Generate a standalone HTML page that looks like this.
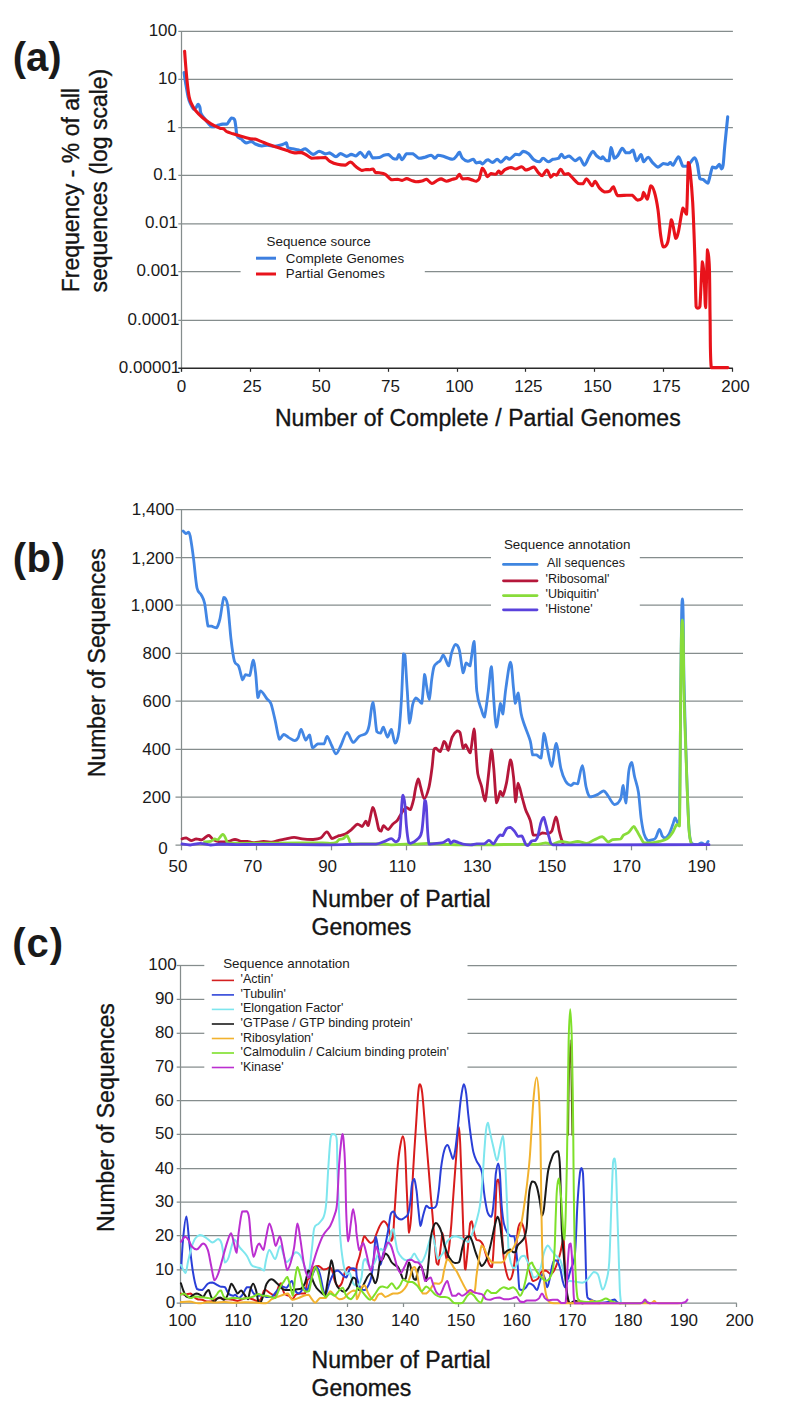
<!DOCTYPE html>
<html><head><meta charset="utf-8"><style>
html,body{margin:0;padding:0;background:#fff;}
body{width:785px;height:1412px;overflow:hidden;}
svg{display:block;font-family:"Liberation Sans", sans-serif;fill:#111;}
svg text{fill:#141414;stroke:#141414;stroke-width:0.35px;}
svg text.sm{stroke:none;fill:#1a1a1a;}
</style></head><body>
<svg width="785" height="1412" viewBox="0 0 785 1412">
<rect width="785" height="1412" fill="#fff"/>
<line x1="178.3" y1="31.46" x2="732.9" y2="31.46" stroke="#858d8d" stroke-width="1.25"/>
<line x1="178.3" y1="79.3" x2="732.9" y2="79.3" stroke="#858d8d" stroke-width="1.25"/>
<line x1="178.3" y1="127.65" x2="732.9" y2="127.65" stroke="#858d8d" stroke-width="1.25"/>
<line x1="178.3" y1="175.25" x2="732.9" y2="175.25" stroke="#858d8d" stroke-width="1.25"/>
<line x1="178.3" y1="223.9" x2="732.9" y2="223.9" stroke="#858d8d" stroke-width="1.25"/>
<line x1="178.3" y1="271.5" x2="240.6" y2="271.5" stroke="#858d8d" stroke-width="1.25"/>
<line x1="424.8" y1="271.5" x2="732.9" y2="271.5" stroke="#858d8d" stroke-width="1.25"/>
<line x1="178.3" y1="320.4" x2="732.9" y2="320.4" stroke="#858d8d" stroke-width="1.25"/>
<line x1="181.5" y1="31.5" x2="181.5" y2="371.5" stroke="#858d8d" stroke-width="1.25"/>
<text class="sm" x="177" y="35.8" font-size="17" text-anchor="end" font-weight="normal" >100</text>
<text class="sm" x="177" y="83.6" font-size="17" text-anchor="end" font-weight="normal" >10</text>
<text class="sm" x="176" y="132.0" font-size="17" text-anchor="end" font-weight="normal" >1</text>
<text class="sm" x="177" y="179.6" font-size="17" text-anchor="end" font-weight="normal" >0.1</text>
<text class="sm" x="178" y="228.2" font-size="17" text-anchor="end" font-weight="normal" >0.01</text>
<text class="sm" x="179" y="275.8" font-size="17" text-anchor="end" font-weight="normal" >0.001</text>
<text class="sm" x="179.5" y="324.7" font-size="17" text-anchor="end" font-weight="normal" >0.0001</text>
<text class="sm" x="180.3" y="372.5" font-size="17" text-anchor="end" font-weight="normal" >0.00001</text>
<line x1="178.3" y1="368.2" x2="732.9" y2="368.2" stroke="#2a2a2a" stroke-width="1.4"/>
<line x1="181.5" y1="368" x2="181.5" y2="371.8" stroke="#2a2a2a" stroke-width="1.2"/>
<text class="sm" x="181.6" y="391.8" font-size="17" text-anchor="middle" font-weight="normal" >0</text>
<line x1="250.5" y1="368" x2="250.5" y2="371.8" stroke="#2a2a2a" stroke-width="1.2"/>
<text class="sm" x="252.3" y="391.8" font-size="17" text-anchor="middle" font-weight="normal" >25</text>
<line x1="319.5" y1="368" x2="319.5" y2="371.8" stroke="#2a2a2a" stroke-width="1.2"/>
<text class="sm" x="321.3" y="391.8" font-size="17" text-anchor="middle" font-weight="normal" >50</text>
<line x1="388.5" y1="368" x2="388.5" y2="371.8" stroke="#2a2a2a" stroke-width="1.2"/>
<text class="sm" x="390.4" y="391.8" font-size="17" text-anchor="middle" font-weight="normal" >75</text>
<line x1="457.5" y1="368" x2="457.5" y2="371.8" stroke="#2a2a2a" stroke-width="1.2"/>
<text class="sm" x="459.4" y="391.8" font-size="17" text-anchor="middle" font-weight="normal" >100</text>
<line x1="525.5" y1="368" x2="525.5" y2="371.8" stroke="#2a2a2a" stroke-width="1.2"/>
<text class="sm" x="528.4" y="391.8" font-size="17" text-anchor="middle" font-weight="normal" >125</text>
<line x1="594.5" y1="368" x2="594.5" y2="371.8" stroke="#2a2a2a" stroke-width="1.2"/>
<text class="sm" x="597.5" y="391.8" font-size="17" text-anchor="middle" font-weight="normal" >150</text>
<line x1="663.5" y1="368" x2="663.5" y2="371.8" stroke="#2a2a2a" stroke-width="1.2"/>
<text class="sm" x="666.5" y="391.8" font-size="17" text-anchor="middle" font-weight="normal" >175</text>
<line x1="732.5" y1="368" x2="732.5" y2="371.8" stroke="#2a2a2a" stroke-width="1.2"/>
<text class="sm" x="735.5" y="391.8" font-size="17" text-anchor="middle" font-weight="normal" >200</text>
<text class="sm" x="266.5" y="246.3" font-size="13.4" text-anchor="start" font-weight="normal" >Sequence source</text>
<line x1="256" y1="258.2" x2="276" y2="258.2" stroke="#3d7fe0" stroke-width="3"/>
<line x1="256" y1="274" x2="276" y2="274" stroke="#e8141c" stroke-width="3"/>
<text class="sm" x="285.8" y="262.5" font-size="13.3" text-anchor="start" font-weight="normal" >Complete Genomes</text>
<text class="sm" x="285.8" y="278.2" font-size="13.3" text-anchor="start" font-weight="normal" >Partial Genomes</text>
<path d="M184.1,72.6 C184.3,74.3 184.9,78.7 185.6,82.8 C186.3,86.9 187.4,93.7 188.2,97.1 C189.0,100.5 189.3,101.2 190.2,103.2 C191.1,105.2 192.8,108.6 193.8,109.3 C194.8,109.3 195.6,108.1 196.3,107.3 C197.0,106.5 197.5,104.2 198.1,104.2 C198.7,104.2 199.4,105.8 199.9,107.3 C200.4,108.8 200.1,111.5 200.9,113.4 C201.7,115.3 203.2,116.8 204.5,118.5 C205.8,120.2 207.3,122.2 208.5,123.6 C209.7,124.9 210.6,126.1 211.6,126.6 C212.6,126.6 213.4,126.6 214.6,126.6 C215.8,126.3 217.3,125.5 218.7,125.1 C220.1,124.7 221.4,124.3 222.8,124.1 C224.2,124.1 225.9,124.1 226.9,124.1 C227.9,123.7 228.1,122.5 228.9,121.5 C229.7,120.5 230.6,118.3 231.5,118.0 C232.4,118.0 233.8,118.1 234.5,119.5 C235.2,120.9 235.4,123.9 235.8,126.6 C236.2,129.3 236.2,133.8 237.1,135.8 C238.0,137.9 239.6,137.7 241.1,138.9 C242.6,140.1 244.5,142.5 246.2,142.9 C247.9,142.9 249.8,141.4 251.3,141.4 C252.8,141.6 253.6,143.2 255.4,144.0 C257.2,144.8 259.9,145.8 261.9,146.0 C263.9,146.0 265.0,145.2 267.2,145.2 C269.4,145.2 272.3,146.3 274.9,146.3 C277.4,146.2 280.6,145.1 282.5,144.5 C284.4,143.9 285.4,142.9 286.3,142.9 C287.2,143.4 286.9,146.5 287.9,147.5 C288.9,148.5 290.9,148.3 292.5,148.7 C294.1,149.1 296.4,149.5 297.8,149.8 C299.2,150.1 299.6,150.6 300.9,150.6 C302.2,150.4 303.4,148.7 305.4,148.7 C307.4,149.3 310.8,154.0 313.1,154.4 C315.4,154.4 317.2,151.4 319.2,151.3 C321.2,151.3 323.5,153.6 325.3,153.9 C327.1,153.9 328.1,152.9 329.9,152.9 C331.7,153.4 334.2,156.6 336.0,156.7 C337.8,156.7 338.8,153.6 340.6,153.6 C342.4,153.6 344.9,156.3 346.7,156.4 C348.5,156.4 349.8,154.5 351.3,154.4 C352.8,154.4 354.4,155.9 355.9,155.9 C357.4,155.6 359.0,152.4 360.5,152.4 C362.0,152.7 363.7,157.5 365.1,157.5 C366.5,157.4 367.6,151.8 368.9,151.8 C370.2,151.9 371.0,157.0 372.7,157.9 C374.4,157.9 377.3,157.9 379.2,157.5 C381.1,157.1 382.3,155.7 383.8,155.2 C385.3,154.7 386.8,154.5 388.3,154.5 C389.8,155.0 391.5,157.6 392.9,158.3 C394.3,159.0 395.8,159.0 396.8,159.0 C397.8,158.4 398.1,154.5 399.0,154.5 C399.9,154.6 400.8,159.8 402.1,159.8 C403.4,159.7 404.9,154.7 406.7,153.7 C408.5,153.7 410.8,153.7 412.8,153.7 C414.8,154.5 416.9,157.7 418.9,158.3 C420.9,158.3 423.0,157.7 425.0,157.2 C427.0,156.7 429.4,155.2 431.1,155.2 C432.8,155.4 433.9,158.3 435.0,158.3 C436.1,158.3 436.6,155.5 438.0,155.2 C439.4,155.2 441.0,155.6 443.4,156.3 C445.8,157.0 450.2,159.3 452.5,159.3 C454.8,159.1 456.0,156.4 457.1,155.2 C458.2,154.0 458.5,152.2 459.4,152.2 C460.3,152.7 461.1,156.8 462.5,158.3 C463.9,159.8 466.0,161.1 467.8,161.3 C469.6,161.3 471.8,159.3 473.2,159.3 C474.6,159.6 475.0,162.4 476.2,162.9 C477.4,162.9 479.1,162.1 480.1,162.1 C481.1,162.3 481.4,163.9 482.4,163.9 C483.4,163.7 485.2,161.3 486.2,160.6 C487.1,159.9 487.0,159.8 488.1,159.8 C489.2,160.1 491.1,162.4 492.6,162.4 C494.1,162.3 495.8,159.4 497.2,159.3 C498.6,159.3 499.5,162.1 501.0,162.1 C502.5,161.8 505.0,157.7 506.4,157.2 C507.8,157.2 508.0,159.3 509.5,159.3 C511.0,158.8 514.0,154.9 515.6,154.2 C517.2,154.2 518.1,154.8 519.4,154.8 C520.7,154.3 521.7,151.6 523.2,151.4 C524.7,151.4 526.8,152.3 528.6,153.7 C530.4,155.1 532.1,158.5 533.9,159.8 C535.7,161.2 537.8,161.8 539.3,161.8 C540.8,161.6 541.6,158.3 543.1,158.3 C544.6,158.3 546.8,161.6 548.4,161.8 C550.0,161.8 551.3,159.9 553.0,159.3 C554.7,158.7 557.0,159.2 558.4,158.3 C559.8,157.5 560.4,154.3 561.4,154.2 C562.4,154.2 563.2,157.5 564.5,157.8 C565.8,157.8 567.3,156.0 569.1,156.0 C570.9,156.5 573.4,160.3 575.2,160.6 C577.0,160.6 578.3,157.8 579.8,157.8 C581.3,158.6 582.9,165.2 584.4,165.2 C585.9,165.1 587.5,159.5 588.9,157.2 C590.3,154.9 591.5,151.7 592.8,151.4 C594.1,151.4 595.2,154.5 596.6,155.7 C598.0,156.9 600.2,158.5 601.2,158.7 C602.2,158.7 602.0,156.7 602.7,156.7 C603.4,156.9 604.4,159.2 605.4,159.9 C606.4,160.6 607.9,160.8 608.9,160.8 C609.9,158.7 610.2,147.9 611.1,147.5 C612.0,147.5 613.2,156.9 614.3,158.2 C615.4,158.2 616.5,157.2 617.8,155.5 C619.1,153.8 620.9,148.8 622.3,148.3 C623.6,148.3 624.7,152.1 625.9,152.8 C627.1,152.8 628.2,152.8 629.4,152.8 C630.6,152.4 631.8,150.1 633.0,150.1 C634.2,151.4 635.3,160.1 636.6,160.8 C637.9,160.8 639.8,154.6 641.0,154.6 C642.2,154.8 642.5,161.2 643.7,161.7 C644.9,161.7 646.7,157.3 648.2,157.3 C649.7,157.5 651.0,161.0 652.6,162.6 C654.2,164.2 656.2,166.9 658.0,167.1 C659.8,167.1 661.7,163.9 663.3,163.5 C664.9,163.5 666.6,164.4 667.8,164.4 C669.0,164.2 669.5,162.6 670.4,162.6 C671.3,162.8 671.8,165.3 673.1,165.3 C674.5,164.3 676.9,156.7 678.5,156.7 C680.1,156.8 681.4,164.6 682.9,166.2 C684.4,166.2 686.0,166.2 687.4,166.2 C688.8,165.4 689.8,163.1 691.0,161.7 C692.2,160.3 693.5,157.8 694.5,157.8 C695.5,158.1 696.3,160.0 697.2,163.5 C698.1,167.0 698.9,176.0 699.9,178.7 C700.9,179.6 702.1,178.9 703.4,179.6 C704.7,180.3 706.4,183.1 707.9,183.1 C709.4,181.0 711.1,169.6 712.4,167.1 C713.7,167.1 714.7,168.0 715.9,168.0 C717.1,167.6 718.6,164.4 719.5,164.4 C720.4,164.6 720.7,168.8 721.3,168.9 C721.9,168.9 722.5,168.9 723.1,165.3 C723.7,161.4 724.0,153.8 724.8,145.7 C725.6,137.6 727.2,121.6 727.7,116.8" fill="none" stroke="#3a80e2" stroke-width="3.1" stroke-linejoin="round" stroke-linecap="round"/>
<path d="M184.6,51.2 C184.8,54.4 185.6,64.8 186.1,70.6 C186.6,76.4 187.1,81.5 187.6,85.9 C188.1,90.3 188.6,94.2 189.2,97.1 C189.8,100.0 190.2,101.0 191.2,103.2 C192.2,105.4 193.4,107.9 195.3,110.3 C197.2,112.7 199.9,115.3 202.4,117.5 C204.9,119.7 207.7,121.8 210.6,123.6 C213.5,125.4 217.6,127.3 219.7,128.2 C221.8,128.7 222.1,128.2 223.3,128.7 C224.5,129.3 225.3,130.8 226.9,131.7 C228.5,132.5 230.6,133.0 233.0,133.8 C235.4,134.6 238.0,135.5 241.1,136.3 C244.2,137.2 249.0,138.4 251.3,138.9 C253.6,139.1 253.4,138.9 255.0,139.1 C256.6,139.5 258.8,140.5 261.1,141.4 C263.4,142.3 266.0,143.5 268.8,144.5 C271.6,145.5 274.8,146.5 277.9,147.5 C280.9,148.5 284.3,149.7 287.1,150.6 C289.9,151.5 292.4,152.6 294.7,152.9 C297.0,152.9 299.1,152.4 300.9,152.4 C302.7,152.7 303.6,153.4 305.4,154.4 C307.2,155.4 309.6,157.6 311.6,158.2 C313.7,158.2 315.4,158.0 317.7,157.9 C320.0,157.8 323.3,157.5 325.3,157.5 C327.3,158.1 327.9,160.2 329.9,161.3 C331.9,162.4 334.9,163.7 337.5,164.3 C340.1,164.9 343.0,165.1 345.2,165.1 C347.4,164.7 348.7,162.0 350.5,162.0 C352.3,162.2 354.0,165.2 355.9,166.6 C357.8,168.0 360.3,169.9 362.0,170.4 C363.7,170.4 364.7,169.6 366.0,169.5 C367.3,169.5 368.8,169.7 370.0,169.7 C371.2,169.6 372.2,169.0 373.1,169.0 C374.0,169.5 374.4,171.9 375.4,172.5 C376.4,172.8 377.5,172.5 379.2,172.8 C380.9,173.1 383.3,173.2 385.3,174.3 C387.3,175.5 389.4,178.9 391.4,179.7 C393.4,179.7 395.7,179.2 397.5,179.2 C399.3,179.3 400.6,180.4 402.1,180.4 C403.6,180.3 405.2,178.6 406.7,178.6 C408.2,178.6 409.8,179.9 411.3,180.4 C412.8,180.9 414.1,181.6 415.9,181.7 C417.7,181.7 420.2,181.3 422.0,180.9 C423.8,180.5 425.0,179.2 426.6,179.2 C428.2,179.6 430.1,183.3 431.9,183.5 C433.7,183.5 435.8,181.2 437.3,180.4 C438.8,179.6 439.6,178.9 441.1,178.9 C442.6,179.0 444.5,181.1 446.4,181.2 C448.3,181.2 450.8,179.7 452.5,179.2 C454.2,178.7 455.2,179.0 456.4,178.2 C457.5,177.4 458.4,174.3 459.4,174.3 C460.4,174.4 461.1,178.2 462.5,178.9 C463.9,178.9 466.2,178.6 467.8,178.6 C469.4,178.8 471.0,179.7 472.4,180.1 C473.8,180.5 475.0,181.2 476.2,181.2 C477.4,180.9 478.3,180.8 479.3,178.6 C480.3,176.4 481.4,169.2 482.4,168.2 C483.4,168.2 484.6,171.4 485.4,172.8 C486.2,174.2 486.4,176.5 487.3,176.6 C488.2,176.6 489.7,174.0 491.1,173.6 C492.5,173.6 494.4,174.3 495.7,174.3 C497.0,173.9 497.9,171.1 498.8,171.0 C499.7,171.0 500.0,173.6 501.0,173.6 C502.0,173.4 503.2,170.7 504.9,169.7 C506.6,168.7 509.2,167.6 511.0,167.5 C512.8,167.5 513.8,169.0 515.6,169.0 C517.4,168.9 520.1,166.7 521.7,166.7 C523.4,166.9 524.2,169.6 525.5,170.0 C526.8,170.0 527.9,169.5 529.3,169.0 C530.7,168.5 532.4,167.0 533.9,167.0 C535.4,167.6 537.1,171.4 538.5,172.8 C539.9,174.2 540.9,175.6 542.3,175.6 C543.7,175.1 545.5,170.0 546.9,170.0 C548.3,170.2 549.6,176.4 550.7,177.1 C551.9,177.1 552.8,174.6 553.8,174.3 C554.8,174.3 555.6,175.1 556.8,175.1 C557.9,174.3 559.4,169.5 560.7,169.4 C562.0,169.4 563.2,173.6 564.5,174.3 C565.8,174.3 567.0,173.6 568.3,173.6 C569.6,174.1 570.5,175.8 572.1,177.4 C573.8,179.1 576.4,182.4 578.2,183.5 C580.0,183.8 581.4,183.8 582.8,183.8 C584.2,183.0 585.2,178.9 586.7,178.9 C588.2,179.2 590.6,185.4 592.0,185.8 C593.4,185.8 593.8,181.2 595.1,181.2 C596.4,181.6 598.0,186.3 599.6,188.1 C601.2,189.9 602.8,191.5 604.5,192.0 C606.2,192.0 608.3,192.0 609.8,191.1 C611.3,190.2 612.1,186.7 613.4,186.7 C614.7,187.4 615.6,194.2 617.8,195.6 C620.0,195.6 624.4,195.3 626.8,195.2 C629.2,195.2 630.3,195.2 632.1,195.2 C633.9,196.0 635.9,199.6 637.5,200.1 C639.1,200.1 640.9,199.6 641.9,198.3 C642.9,197.0 642.8,192.4 643.7,192.4 C644.6,192.6 646.1,199.2 647.3,199.2 C648.5,198.1 649.6,187.0 650.8,185.8 C652.0,185.8 653.2,188.0 654.4,192.0 C655.6,196.0 657.0,202.8 658.0,209.9 C659.0,217.0 659.7,228.6 660.6,234.8 C661.5,241.0 662.1,245.8 663.3,247.0 C664.5,247.0 666.5,246.6 667.8,242.0 C669.1,237.4 670.4,222.4 671.3,219.7 C672.2,219.7 672.4,222.8 673.1,225.9 C673.9,229.0 674.9,237.5 675.8,238.4 C676.7,238.4 677.3,236.4 678.5,231.3 C679.7,226.2 681.6,210.9 682.9,208.1 C684.2,208.1 685.6,214.3 686.5,214.3 C687.4,206.7 687.7,169.9 688.3,162.6 C688.9,162.6 689.4,163.9 690.1,170.6 C690.8,177.3 691.9,188.5 692.7,202.7 C693.5,216.8 694.2,238.2 694.8,255.5 C695.4,272.8 695.6,297.6 696.1,306.4 C696.6,308.3 697.4,308.3 698.0,308.3 C698.6,308.3 699.2,308.3 699.9,306.4 C700.6,298.6 701.7,266.0 702.4,261.8 C703.1,261.8 703.8,273.4 704.3,281.0 C704.8,288.6 705.1,307.7 705.6,307.7 C706.1,302.5 706.9,256.3 707.5,249.7 C708.1,249.7 709.0,256.6 709.4,268.2 C709.8,279.8 709.8,302.6 710.1,319.2 C710.4,335.8 710.1,359.5 711.3,367.6 C714.3,367.6 725.1,367.6 727.9,367.6" fill="none" stroke="#e8131b" stroke-width="3.1" stroke-linejoin="round" stroke-linecap="round"/>
<text class="sm" x="12.8" y="71.0" font-size="40" text-anchor="start" font-weight="bold" >(a)</text>
<text transform="translate(78.6,292.3) rotate(-90)" font-size="23">Frequency - % of all</text>
<text transform="translate(107,292.5) rotate(-90)" font-size="23">sequences (log scale)</text>
<text x="274.9" y="425.8" font-size="23" text-anchor="start" font-weight="normal" letter-spacing="0.09">Number of Complete / Partial Genomes</text>
<line x1="175.5" y1="509.6" x2="743" y2="509.6" stroke="#858d8d" stroke-width="1.25"/>
<text class="sm" x="174.3" y="514.5" font-size="17" text-anchor="end" font-weight="normal" >1,400</text>
<line x1="175.5" y1="557.6" x2="491" y2="557.6" stroke="#858d8d" stroke-width="1.25"/>
<line x1="639.8" y1="557.6" x2="743" y2="557.6" stroke="#858d8d" stroke-width="1.25"/>
<text class="sm" x="174.0" y="563.5" font-size="17" text-anchor="end" font-weight="normal" >1,200</text>
<line x1="175.5" y1="605.2" x2="491" y2="605.2" stroke="#858d8d" stroke-width="1.25"/>
<line x1="639.8" y1="605.2" x2="743" y2="605.2" stroke="#858d8d" stroke-width="1.25"/>
<text class="sm" x="173.4" y="611.1" font-size="17" text-anchor="end" font-weight="normal" >1,000</text>
<line x1="175.5" y1="653.4" x2="743" y2="653.4" stroke="#858d8d" stroke-width="1.25"/>
<text class="sm" x="170.9" y="659.3" font-size="17" text-anchor="end" font-weight="normal" >800</text>
<line x1="175.5" y1="701.2" x2="743" y2="701.2" stroke="#858d8d" stroke-width="1.25"/>
<text class="sm" x="170.9" y="707.1" font-size="17" text-anchor="end" font-weight="normal" >600</text>
<line x1="175.5" y1="749.3" x2="743" y2="749.3" stroke="#858d8d" stroke-width="1.25"/>
<text class="sm" x="170.60000000000002" y="755.2" font-size="17" text-anchor="end" font-weight="normal" >400</text>
<line x1="175.5" y1="797.2" x2="743" y2="797.2" stroke="#858d8d" stroke-width="1.25"/>
<text class="sm" x="170.60000000000002" y="803.1" font-size="17" text-anchor="end" font-weight="normal" >200</text>
<line x1="175.5" y1="845.0" x2="743" y2="845.0" stroke="#858d8d" stroke-width="1.25"/>
<text class="sm" x="167.70000000000002" y="854.4" font-size="17" text-anchor="end" font-weight="normal" >0</text>
<line x1="181.5" y1="509.6" x2="181.5" y2="850.3" stroke="#858d8d" stroke-width="1.25"/>
<line x1="256.5" y1="845.1" x2="256.5" y2="850.3" stroke="#858d8d" stroke-width="1.25"/>
<line x1="331.5" y1="845.1" x2="331.5" y2="850.3" stroke="#858d8d" stroke-width="1.25"/>
<line x1="406.5" y1="845.1" x2="406.5" y2="850.3" stroke="#858d8d" stroke-width="1.25"/>
<line x1="481.5" y1="845.1" x2="481.5" y2="850.3" stroke="#858d8d" stroke-width="1.25"/>
<line x1="556.5" y1="845.1" x2="556.5" y2="850.3" stroke="#858d8d" stroke-width="1.25"/>
<line x1="631.5" y1="845.1" x2="631.5" y2="850.3" stroke="#858d8d" stroke-width="1.25"/>
<line x1="706.5" y1="845.1" x2="706.5" y2="850.3" stroke="#858d8d" stroke-width="1.25"/>
<text class="sm" x="178.0" y="872.3" font-size="17" text-anchor="middle" font-weight="normal" >50</text>
<text class="sm" x="252.8" y="872.3" font-size="17" text-anchor="middle" font-weight="normal" >70</text>
<text class="sm" x="327.6" y="872.3" font-size="17" text-anchor="middle" font-weight="normal" >90</text>
<text class="sm" x="402.4" y="872.3" font-size="17" text-anchor="middle" font-weight="normal" >110</text>
<text class="sm" x="477.2" y="872.3" font-size="17" text-anchor="middle" font-weight="normal" >130</text>
<text class="sm" x="552.0" y="872.3" font-size="17" text-anchor="middle" font-weight="normal" >150</text>
<text class="sm" x="626.8" y="872.3" font-size="17" text-anchor="middle" font-weight="normal" >170</text>
<text class="sm" x="701.6" y="872.3" font-size="17" text-anchor="middle" font-weight="normal" >190</text>
<text class="sm" x="503.9" y="549.4" font-size="13.4" text-anchor="start" font-weight="normal" >Sequence annotation</text>
<line x1="503.5" y1="564.4" x2="537" y2="564.4" stroke="#3f86e0" stroke-width="2.8" stroke-linecap="round"/>
<text class="sm" x="547.1" y="566.7" font-size="12.5" text-anchor="start" font-weight="normal" >All sequences</text>
<line x1="503.5" y1="580.8" x2="537" y2="580.8" stroke="#b5173a" stroke-width="2.8" stroke-linecap="round"/>
<text class="sm" x="545.5" y="583.1" font-size="12.5" text-anchor="start" font-weight="normal" >'Ribosomal'</text>
<line x1="503.5" y1="595.6" x2="537" y2="595.6" stroke="#88dc3a" stroke-width="2.8" stroke-linecap="round"/>
<text class="sm" x="545.5" y="597.9" font-size="12.5" text-anchor="start" font-weight="normal" >'Ubiquitin'</text>
<line x1="503.5" y1="609.8" x2="537" y2="609.8" stroke="#5a42dc" stroke-width="2.8" stroke-linecap="round"/>
<text class="sm" x="545.5" y="612.9" font-size="12.5" text-anchor="start" font-weight="normal" >'Histone'</text>
<path d="M183.1,531.0 C183.6,531.4 185.0,533.4 185.9,533.6 C186.8,533.6 187.8,532.2 188.5,532.2 C189.2,532.6 189.3,532.2 190.2,536.1 C191.0,540.6 192.5,550.5 193.6,559.1 C194.7,567.8 195.7,582.0 197.0,588.0 C198.3,594.0 199.9,592.2 201.2,594.8 C202.5,597.3 203.5,598.1 204.6,603.3 C205.7,608.5 206.9,622.4 208.0,626.2 C209.1,626.2 210.0,626.2 211.4,626.2 C212.8,626.5 215.1,627.9 216.5,627.9 C217.9,626.6 218.8,623.7 220.0,618.6 C221.2,613.5 222.6,599.6 223.9,597.3 C225.2,597.3 226.4,598.0 227.6,605.0 C228.8,612.0 229.9,629.6 231.0,639.0 C232.1,648.4 233.1,656.6 234.4,661.1 C235.7,665.6 237.2,663.1 238.6,666.2 C240.0,669.3 241.5,678.4 242.6,679.8 C243.7,679.8 244.2,675.4 245.4,674.7 C246.6,674.7 248.4,675.5 249.7,675.5 C251.0,673.1 252.1,660.6 253.1,660.2 C254.1,660.2 254.8,666.8 255.6,673.0 C256.4,679.2 257.0,694.6 257.9,697.6 C258.8,697.6 259.2,690.8 260.7,690.8 C262.2,690.9 265.0,696.4 266.7,698.5 C268.4,700.6 269.5,699.9 270.9,703.6 C272.3,707.3 273.8,714.7 275.2,720.6 C276.6,726.5 278.0,737.0 279.4,739.3 C280.8,739.3 282.1,734.8 283.7,734.5 C285.3,734.5 287.0,736.6 288.8,737.6 C290.6,738.6 293.1,740.6 294.7,740.6 C296.2,740.6 297.0,739.7 298.1,737.8 C299.2,735.9 299.8,729.4 301.1,729.4 C302.4,729.8 304.3,739.2 305.7,740.1 C307.1,740.1 308.4,734.8 309.5,734.8 C310.6,736.1 311.2,746.3 312.6,747.8 C314.0,747.8 316.0,744.5 317.9,743.9 C319.8,743.9 322.5,743.9 324.0,743.9 C325.5,742.6 325.8,736.3 327.1,736.3 C328.4,736.6 330.2,742.6 331.7,745.5 C333.2,748.4 334.5,753.9 336.0,753.9 C337.5,753.9 339.1,749.1 340.9,745.5 C342.7,741.9 345.0,733.0 347.0,732.5 C349.0,732.5 351.1,741.8 353.1,742.4 C355.1,742.4 357.0,737.8 359.2,736.3 C361.4,734.8 364.5,735.0 366.1,733.2 C367.8,731.4 368.0,730.7 369.1,725.6 C370.2,720.5 371.7,702.4 373.0,702.4 C374.3,703.4 375.5,726.6 376.8,731.7 C378.1,733.2 379.5,733.2 380.6,733.2 C381.7,732.4 382.2,727.1 383.4,727.1 C384.5,727.8 386.2,736.7 387.5,737.1 C388.8,737.1 390.0,729.4 391.3,729.4 C392.6,730.4 393.8,742.8 395.1,743.2 C396.4,743.2 397.8,738.9 398.9,731.7 C399.9,724.5 400.6,713.0 401.4,700.0 C402.2,687.0 402.9,661.3 403.5,653.8 C404.1,653.8 404.4,653.8 405.0,655.2 C405.6,661.4 406.5,679.8 407.3,691.1 C408.1,702.4 408.7,720.9 409.6,723.2 C410.5,723.2 411.6,709.1 412.6,704.9 C413.6,700.7 414.7,698.8 415.7,698.0 C416.7,698.0 417.8,699.4 418.8,700.3 C419.8,701.2 420.8,703.4 421.8,703.4 C422.8,699.1 423.8,677.4 424.6,674.3 C425.4,674.3 425.6,680.8 426.4,685.0 C427.2,689.2 428.3,699.6 429.2,699.6 C430.1,698.6 431.0,684.4 431.8,678.9 C432.6,673.4 433.1,669.4 434.0,666.7 C434.9,664.0 436.1,663.9 437.1,662.9 C438.1,661.9 439.2,661.9 440.2,660.6 C441.2,659.3 442.3,655.5 443.2,655.2 C444.1,655.2 444.6,657.2 445.5,659.0 C446.4,660.8 447.6,665.9 448.6,665.9 C449.6,664.9 450.5,656.5 451.6,652.9 C452.7,649.3 454.1,645.0 455.4,644.5 C456.7,644.5 458.0,645.2 459.3,649.9 C460.6,654.6 462.0,670.6 463.1,672.8 C464.2,672.8 465.0,664.0 466.1,662.9 C467.2,662.9 468.7,665.9 470.0,665.9 C471.3,662.3 473.0,641.5 474.1,641.5 C475.2,645.7 475.6,679.8 476.8,691.1 C478.0,702.4 480.1,705.2 481.4,709.5 C482.7,713.8 483.4,717.1 484.5,717.1 C485.6,714.0 487.2,699.5 488.3,691.1 C489.4,682.7 490.5,666.7 491.4,666.7 C492.3,668.0 492.9,688.7 493.7,698.8 C494.5,708.9 495.3,726.3 496.4,727.1 C497.5,727.1 499.4,705.6 500.5,703.4 C501.6,703.4 501.9,714.1 502.8,714.1 C503.7,711.6 504.6,696.8 505.9,688.1 C507.2,679.4 509.2,662.1 510.5,662.1 C511.8,662.1 512.7,681.2 513.5,688.1 C514.3,695.0 514.6,702.6 515.4,703.4 C516.2,703.4 517.1,693.0 518.1,693.0 C519.1,694.7 520.1,708.4 521.1,713.6 C522.1,718.8 522.7,719.7 524.2,724.3 C525.7,728.9 528.9,736.0 530.3,741.1 C531.7,746.2 531.6,752.6 532.6,754.9 C533.6,754.9 535.0,754.9 536.4,754.9 C537.8,755.4 539.7,758.0 541.0,758.0 C542.3,754.4 543.0,735.3 544.0,733.5 C545.0,733.5 545.8,741.8 547.1,747.3 C548.4,752.8 550.2,766.4 551.7,766.4 C553.2,765.8 554.8,743.4 556.3,743.4 C557.8,743.8 559.4,762.5 560.9,768.7 C562.4,775.0 563.8,778.1 565.4,780.9 C567.0,783.7 569.4,785.1 570.8,785.5 C572.2,785.5 572.8,783.5 573.9,783.2 C575.0,783.2 576.3,783.9 577.7,783.9 C579.1,781.0 580.9,765.6 582.3,765.6 C583.7,766.1 584.8,781.8 586.1,787.0 C587.4,792.2 588.0,795.6 589.9,796.9 C591.8,796.9 595.2,795.6 597.5,794.6 C599.8,793.6 601.9,790.8 603.7,790.8 C605.5,791.1 606.4,793.9 608.2,796.2 C610.0,798.5 612.4,804.1 614.4,804.6 C616.4,804.6 619.0,802.4 620.5,799.2 C622.0,796.0 622.2,785.5 623.1,785.5 C624.0,786.1 624.8,803.0 625.8,803.0 C626.8,800.6 627.8,777.9 628.8,771.1 C629.8,764.4 630.7,762.5 631.7,762.5 C632.7,763.5 633.5,771.9 634.6,776.8 C635.7,781.7 637.3,785.1 638.4,792.1 C639.5,799.1 640.2,811.9 641.2,818.9 C642.2,825.9 643.0,830.6 644.1,834.2 C645.2,837.9 646.6,839.8 647.9,840.8 C649.2,840.8 650.5,840.4 651.8,839.9 C653.1,839.4 654.3,839.8 655.6,838.0 C656.9,836.2 658.3,829.7 659.4,829.4 C660.5,829.4 661.3,834.7 662.3,836.1 C663.2,837.5 664.0,838.0 665.1,838.0 C666.2,837.7 667.7,836.4 669.0,834.2 C670.3,832.0 671.8,827.3 672.8,824.6 C673.8,821.9 674.3,818.2 675.1,817.9 C675.9,817.9 676.9,822.2 677.6,822.7 C678.3,822.7 679.0,822.7 679.5,820.8 C680.0,797.0 680.4,714.3 680.8,680.0 C681.1,645.7 681.3,628.5 681.6,615.0 C681.9,601.5 682.1,599.0 682.4,599.0 C682.7,599.0 682.9,601.5 683.2,615.0 C683.5,628.5 683.5,656.2 684.0,680.0 C684.5,703.8 685.4,733.3 686.2,758.0 C687.0,782.7 688.0,814.1 689.0,828.4 C690.0,842.7 690.5,841.0 691.9,843.7 C693.3,844.7 696.0,844.7 697.6,844.7 C699.2,844.6 700.1,842.8 701.4,842.8 C702.7,842.8 704.2,844.7 705.3,844.7 C706.4,844.5 707.6,842.0 708.1,841.4" fill="none" stroke="#4286e4" stroke-width="2.8" stroke-linejoin="round" stroke-linecap="round"/>
<path d="M182.0,838.9 C182.7,838.7 184.6,837.9 186.1,837.9 C187.6,838.2 189.5,840.4 191.2,840.6 C192.9,840.6 194.6,839.0 196.3,838.9 C198.0,838.9 199.9,839.9 201.4,839.9 C202.9,839.6 204.2,838.1 205.5,837.3 C206.8,836.5 207.6,835.3 208.9,835.3 C210.2,835.7 211.8,838.8 213.6,839.9 C215.4,841.0 217.8,841.6 219.7,842.0 C221.6,842.0 223.1,842.0 224.8,842.0 C226.5,841.8 228.2,841.5 229.9,841.0 C231.6,840.5 233.1,839.3 235.0,839.3 C236.9,839.4 239.0,841.0 241.1,841.4 C243.2,841.4 245.2,841.4 247.3,841.4 C249.4,841.6 250.7,842.6 253.4,842.6 C256.1,842.6 260.6,841.5 263.6,841.4 C266.7,841.4 269.3,842.2 271.7,842.2 C274.1,842.1 275.4,841.2 277.8,840.6 C280.2,840.0 283.3,839.5 286.0,838.9 C288.7,838.3 291.4,837.3 294.1,837.3 C296.8,837.3 299.2,838.5 302.3,838.9 C305.4,839.3 309.4,839.5 312.5,839.5 C315.6,839.4 318.2,839.4 320.6,838.1 C323.0,836.8 324.9,831.8 326.8,831.8 C328.7,831.9 330.2,837.7 331.9,838.5 C333.6,838.5 335.8,837.0 337.0,836.5 C338.2,836.0 337.8,836.1 339.2,835.7 C340.6,835.3 343.3,835.1 345.3,834.1 C347.3,833.1 349.4,831.2 351.4,829.6 C353.4,828.0 355.7,824.7 357.5,824.2 C359.3,824.2 360.7,826.5 362.1,826.5 C363.5,826.0 364.9,821.2 365.9,821.1 C366.9,821.1 367.0,825.7 368.2,825.7 C369.4,823.4 371.5,808.9 372.8,807.4 C374.1,807.4 374.9,812.9 375.9,816.6 C376.9,820.3 378.0,827.2 378.9,829.6 C379.8,831.1 380.4,831.1 381.2,831.1 C382.0,830.5 382.4,826.0 383.5,825.7 C384.6,825.7 386.6,829.6 388.1,829.6 C389.6,829.4 391.2,825.7 392.7,824.2 C394.2,822.7 395.8,822.3 397.3,820.4 C398.8,818.5 400.3,814.9 401.8,812.7 C403.3,810.5 405.0,807.9 406.4,807.4 C407.8,807.4 409.1,809.7 410.3,809.7 C411.5,808.5 412.6,803.4 413.5,800.0 C414.4,796.6 414.6,792.7 415.4,789.2 C416.2,785.7 417.3,779.4 418.2,779.0 C419.1,779.0 419.5,783.3 420.5,786.6 C421.5,789.9 422.9,798.5 424.3,798.7 C425.7,798.7 427.5,792.9 428.8,787.9 C430.1,782.9 431.0,775.2 431.9,768.8 C432.8,762.4 433.2,753.1 433.9,749.7 C434.5,748.2 434.8,748.2 435.8,748.2 C436.9,748.5 438.8,751.6 440.2,751.6 C441.6,750.5 443.0,742.7 444.0,741.4 C445.0,741.4 445.3,742.4 446.0,743.9 C446.7,745.4 447.1,750.3 448.2,750.3 C449.2,749.1 450.8,740.1 452.3,736.9 C453.8,733.6 456.1,731.5 457.4,730.8 C458.7,730.8 459.0,730.8 460.0,732.5 C461.0,735.4 462.2,746.4 463.2,748.4 C464.1,748.4 464.5,744.6 465.7,744.6 C466.9,745.4 468.8,752.9 470.2,752.9 C471.6,750.3 473.1,729.3 474.0,729.0 C474.9,729.0 475.3,743.5 475.9,751.0 C476.5,758.5 476.9,768.0 477.8,773.9 C478.8,779.8 480.4,782.1 481.6,786.6 C482.8,791.1 484.0,801.0 485.1,801.0 C486.2,799.6 487.1,786.8 488.1,778.3 C489.2,769.8 490.5,751.8 491.4,750.0 C492.3,750.0 492.8,758.8 493.7,767.6 C494.6,776.4 495.5,798.8 496.6,802.8 C497.7,802.8 499.4,792.4 500.4,791.3 C501.4,791.3 501.7,795.9 502.7,795.9 C503.7,794.5 505.2,788.9 506.5,782.9 C507.8,776.9 509.3,760.9 510.5,759.9 C511.7,759.9 512.6,769.7 513.5,776.7 C514.4,783.7 514.9,800.9 515.7,802.0 C516.5,802.0 517.0,783.7 518.1,783.2 C519.2,783.2 521.3,794.8 522.6,799.2 C523.9,803.7 524.4,806.3 525.7,809.9 C527.0,813.5 529.0,816.4 530.3,820.6 C531.6,824.8 532.0,832.8 533.3,835.2 C534.6,835.2 536.4,835.2 537.9,835.2 C539.4,834.8 541.0,833.2 542.5,832.9 C544.0,832.9 545.6,833.6 547.1,833.6 C548.6,833.3 550.2,833.6 551.7,831.3 C553.2,828.5 554.7,816.8 556.0,816.8 C557.3,816.8 558.4,827.5 559.3,831.3 C560.2,835.1 561.0,837.5 561.6,839.7 C562.2,841.9 562.9,843.5 563.2,844.3" fill="none" stroke="#b5173a" stroke-width="2.8" stroke-linejoin="round" stroke-linecap="round"/>
<path d="M204.5,842.0 C205.5,841.9 208.9,841.9 210.6,841.4 C212.3,840.9 213.5,839.1 214.7,838.9 C215.9,838.9 216.3,839.9 217.7,839.9 C219.0,839.1 221.4,834.6 222.8,834.4 C224.2,834.4 225.1,837.5 225.9,838.9 C226.8,840.3 225.9,841.9 227.9,842.6 C230.2,843.3 228.0,843.2 240.0,843.3 C252.0,843.3 286.2,843.0 300.0,843.0 C313.8,843.0 317.7,843.0 322.7,843.0 C327.7,843.0 327.8,843.3 330.0,843.3 C332.2,843.2 334.6,843.1 336.1,842.5 C337.6,841.9 338.1,840.1 339.2,839.5 C340.3,838.9 341.7,839.3 343.0,838.7 C344.3,838.1 345.8,835.7 346.8,835.7 C347.8,835.8 348.3,838.1 349.1,839.5 C349.9,840.9 349.1,843.1 351.4,843.8 C356.9,843.8 375.4,843.8 382.0,843.8 C388.6,844.0 387.0,844.8 391.1,844.8 C395.2,844.8 402.3,844.2 406.4,844.1 C410.5,844.1 412.0,844.1 415.6,844.1 C419.2,844.0 422.1,843.3 427.8,843.3 C433.5,843.4 440.3,844.2 450.0,844.5 C459.7,844.8 475.1,844.8 485.9,844.8 C496.7,844.8 506.3,844.4 515.0,844.3 C523.7,844.3 532.8,844.3 537.9,844.3 C543.0,844.0 543.3,842.8 545.6,842.8 C547.9,842.8 549.2,844.3 551.7,844.3 C554.2,844.0 557.9,841.5 560.9,841.3 C563.9,841.3 567.2,842.8 570.0,842.8 C572.8,842.8 574.9,841.3 577.7,841.3 C580.5,841.4 584.0,843.3 586.8,843.3 C589.6,843.0 592.0,840.8 594.5,839.7 C597.0,838.6 599.8,836.7 602.1,836.7 C604.4,837.1 606.4,841.5 608.2,842.0 C610.0,842.0 610.8,840.2 612.8,839.7 C614.8,839.2 618.7,839.7 620.5,839.0 C622.3,838.2 622.1,836.3 623.5,835.2 C624.9,834.1 627.1,833.7 628.8,832.2 C630.5,830.8 632.3,826.8 633.6,826.5 C634.9,826.5 635.4,828.5 636.5,830.3 C637.6,832.0 639.0,834.9 640.3,837.0 C641.6,839.1 642.2,841.8 644.1,842.8 C646.0,842.8 649.2,842.8 651.8,842.8 C654.3,842.6 656.9,842.0 659.4,841.4 C661.9,840.8 664.8,840.4 667.0,838.9 C669.2,837.4 671.2,834.6 672.8,832.2 C674.4,829.8 675.5,825.6 676.6,824.6 C677.7,824.6 678.8,826.0 679.5,826.0 C680.2,805.2 680.3,731.0 680.6,700.0 C680.9,669.0 681.0,653.3 681.3,640.0 C681.6,626.7 682.0,620.0 682.3,620.0 C682.6,620.0 683.0,626.7 683.3,640.0 C683.6,653.3 683.6,679.7 684.1,700.0 C684.6,720.3 685.4,740.3 686.2,762.0 C687.0,783.7 688.0,816.2 689.0,830.0 C690.0,843.8 691.4,842.2 691.9,844.7" fill="none" stroke="#88dc3a" stroke-width="2.8" stroke-linejoin="round" stroke-linecap="round"/>
<path d="M182.0,844.0 C183.4,844.2 187.1,845.0 190.2,845.0 C193.3,844.9 197.0,843.4 200.4,843.4 C203.8,843.4 207.2,844.9 210.6,845.0 C214.0,845.0 216.4,844.1 220.8,844.0 C225.2,844.0 230.6,844.6 237.1,844.6 C243.6,844.6 249.5,844.3 260.0,844.3 C270.5,844.3 288.3,844.5 300.0,844.6 C311.7,844.7 319.9,844.8 330.0,844.8 C340.1,844.7 353.0,844.2 360.6,844.1 C368.2,844.1 372.1,844.1 375.9,844.1 C379.7,843.7 381.0,842.7 383.5,841.8 C386.0,840.9 389.1,838.7 391.1,838.7 C393.1,838.7 394.3,841.8 395.7,841.8 C397.1,841.4 398.6,841.8 399.6,836.4 C400.6,830.1 401.2,811.2 401.8,804.3 C402.4,797.4 402.6,795.2 403.1,795.2 C403.6,795.2 404.3,799.2 404.9,804.3 C405.4,809.4 405.8,819.3 406.4,825.7 C407.0,832.1 407.9,839.6 408.7,842.5 C409.5,843.3 409.6,843.3 411.0,843.3 C412.4,842.8 415.3,841.4 417.1,839.5 C418.9,837.6 420.4,838.3 421.7,831.8 C423.0,825.3 424.0,804.8 424.8,800.5 C425.6,800.5 425.6,800.5 426.3,805.9 C427.0,813.2 427.3,837.9 429.1,844.1 C430.9,844.1 434.7,843.6 437.0,843.3 C439.3,843.0 441.2,843.1 443.1,842.5 C445.0,841.9 447.1,839.5 448.4,839.5 C449.7,839.6 449.8,843.0 450.7,843.3 C451.6,843.3 452.5,841.1 453.8,841.0 C455.1,841.0 456.8,842.0 458.3,842.5 C459.8,843.0 460.8,843.7 462.9,844.1 C464.9,844.5 468.3,844.8 470.6,844.8 C472.9,844.8 474.4,844.0 476.7,843.8 C479.0,843.8 482.3,843.8 484.3,843.8 C486.3,843.2 487.4,840.3 488.9,840.3 C490.4,840.3 492.1,843.8 493.5,843.8 C494.9,843.4 496.2,839.5 497.3,838.0 C498.4,836.5 499.5,835.3 500.4,834.9 C501.3,834.9 501.7,835.7 502.7,835.7 C503.7,834.7 505.2,830.2 506.5,828.8 C507.8,827.4 508.9,827.3 510.3,827.3 C511.7,827.8 513.6,830.3 514.9,831.8 C516.2,833.3 516.8,835.7 518.0,836.4 C519.2,836.4 520.6,835.9 521.9,835.9 C523.2,837.2 524.6,842.5 525.6,844.1 C526.6,845.6 526.9,845.6 527.9,845.6 C528.9,845.1 530.4,841.9 531.7,841.0 C533.0,840.3 534.5,841.0 535.5,840.3 C536.5,839.5 536.9,839.3 537.8,836.4 C538.7,833.5 539.9,825.9 540.9,822.7 C541.9,819.5 542.7,817.3 543.6,817.3 C544.5,817.8 545.2,822.2 546.2,825.7 C547.2,829.2 548.1,834.8 549.3,838.0 C550.4,841.2 549.3,843.7 553.1,844.8 C561.6,844.8 574.0,844.8 600.0,844.8 C626.0,844.8 690.8,844.7 709.0,844.7" fill="none" stroke="#5a42dc" stroke-width="2.8" stroke-linejoin="round" stroke-linecap="round"/>
<text class="sm" x="12.7" y="572.4" font-size="40" text-anchor="start" font-weight="bold" letter-spacing="0.6">(b)</text>
<text transform="translate(105.3,777.2) rotate(-90)" font-size="23">Number of Sequences</text>
<text x="311.6" y="907.3" font-size="23" text-anchor="start" font-weight="normal" >Number of Partial</text>
<text x="311.6" y="935" font-size="23" text-anchor="start" font-weight="normal" >Genomes</text>
<line x1="176.7" y1="965.5" x2="204.3" y2="965.5" stroke="#858d8d" stroke-width="1.25"/>
<line x1="467.5" y1="965.5" x2="736.8" y2="965.5" stroke="#858d8d" stroke-width="1.25"/>
<text class="sm" x="176.6" y="969.5" font-size="17" text-anchor="end" font-weight="normal" >100</text>
<line x1="176.7" y1="999.4" x2="204.3" y2="999.4" stroke="#858d8d" stroke-width="1.25"/>
<line x1="467.5" y1="999.4" x2="736.8" y2="999.4" stroke="#858d8d" stroke-width="1.25"/>
<text class="sm" x="173.8" y="1004.4" font-size="17" text-anchor="end" font-weight="normal" >90</text>
<line x1="176.7" y1="1033.3" x2="204.3" y2="1033.3" stroke="#858d8d" stroke-width="1.25"/>
<line x1="467.5" y1="1033.3" x2="736.8" y2="1033.3" stroke="#858d8d" stroke-width="1.25"/>
<text class="sm" x="173.8" y="1038.3" font-size="17" text-anchor="end" font-weight="normal" >80</text>
<line x1="176.7" y1="1067.1" x2="204.3" y2="1067.1" stroke="#858d8d" stroke-width="1.25"/>
<line x1="467.5" y1="1067.1" x2="736.8" y2="1067.1" stroke="#858d8d" stroke-width="1.25"/>
<text class="sm" x="173.8" y="1072.1" font-size="17" text-anchor="end" font-weight="normal" >70</text>
<line x1="176.7" y1="1100.6" x2="736.8" y2="1100.6" stroke="#858d8d" stroke-width="1.25"/>
<text class="sm" x="173.8" y="1105.6" font-size="17" text-anchor="end" font-weight="normal" >60</text>
<line x1="176.7" y1="1134.4" x2="736.8" y2="1134.4" stroke="#858d8d" stroke-width="1.25"/>
<text class="sm" x="173.8" y="1139.4" font-size="17" text-anchor="end" font-weight="normal" >50</text>
<line x1="176.7" y1="1168.5" x2="736.8" y2="1168.5" stroke="#858d8d" stroke-width="1.25"/>
<text class="sm" x="173.8" y="1173.5" font-size="17" text-anchor="end" font-weight="normal" >40</text>
<line x1="176.7" y1="1202.1" x2="736.8" y2="1202.1" stroke="#858d8d" stroke-width="1.25"/>
<text class="sm" x="173.8" y="1207.1" font-size="17" text-anchor="end" font-weight="normal" >30</text>
<line x1="176.7" y1="1235.6" x2="736.8" y2="1235.6" stroke="#858d8d" stroke-width="1.25"/>
<text class="sm" x="173.8" y="1240.6" font-size="17" text-anchor="end" font-weight="normal" >20</text>
<line x1="176.7" y1="1269.8" x2="736.8" y2="1269.8" stroke="#858d8d" stroke-width="1.25"/>
<text class="sm" x="173.8" y="1274.8" font-size="17" text-anchor="end" font-weight="normal" >10</text>
<line x1="176.7" y1="1303.2" x2="736.8" y2="1303.2" stroke="#858d8d" stroke-width="1.25"/>
<text class="sm" x="175.2" y="1308.2" font-size="17" text-anchor="end" font-weight="normal" >0</text>
<line x1="180.5" y1="965.5" x2="180.5" y2="1307" stroke="#858d8d" stroke-width="1.25"/>
<line x1="236.5" y1="1303.2" x2="236.5" y2="1307" stroke="#858d8d" stroke-width="1.25"/>
<line x1="292.5" y1="1303.2" x2="292.5" y2="1307" stroke="#858d8d" stroke-width="1.25"/>
<line x1="347.5" y1="1303.2" x2="347.5" y2="1307" stroke="#858d8d" stroke-width="1.25"/>
<line x1="403.5" y1="1303.2" x2="403.5" y2="1307" stroke="#858d8d" stroke-width="1.25"/>
<line x1="458.5" y1="1303.2" x2="458.5" y2="1307" stroke="#858d8d" stroke-width="1.25"/>
<line x1="514.5" y1="1303.2" x2="514.5" y2="1307" stroke="#858d8d" stroke-width="1.25"/>
<line x1="570.5" y1="1303.2" x2="570.5" y2="1307" stroke="#858d8d" stroke-width="1.25"/>
<line x1="625.5" y1="1303.2" x2="625.5" y2="1307" stroke="#858d8d" stroke-width="1.25"/>
<line x1="681.5" y1="1303.2" x2="681.5" y2="1307" stroke="#858d8d" stroke-width="1.25"/>
<line x1="736.5" y1="1303.2" x2="736.5" y2="1307" stroke="#858d8d" stroke-width="1.25"/>
<text class="sm" x="182.4" y="1325.8" font-size="17" text-anchor="middle" font-weight="normal" >100</text>
<text class="sm" x="238.1" y="1325.8" font-size="17" text-anchor="middle" font-weight="normal" >110</text>
<text class="sm" x="293.8" y="1325.8" font-size="17" text-anchor="middle" font-weight="normal" >120</text>
<text class="sm" x="349.6" y="1325.8" font-size="17" text-anchor="middle" font-weight="normal" >130</text>
<text class="sm" x="405.3" y="1325.8" font-size="17" text-anchor="middle" font-weight="normal" >140</text>
<text class="sm" x="461.0" y="1325.8" font-size="17" text-anchor="middle" font-weight="normal" >150</text>
<text class="sm" x="516.7" y="1325.8" font-size="17" text-anchor="middle" font-weight="normal" >160</text>
<text class="sm" x="572.4" y="1325.8" font-size="17" text-anchor="middle" font-weight="normal" >170</text>
<text class="sm" x="628.2" y="1325.8" font-size="17" text-anchor="middle" font-weight="normal" >180</text>
<text class="sm" x="683.9" y="1325.8" font-size="17" text-anchor="middle" font-weight="normal" >190</text>
<text class="sm" x="739.6" y="1325.8" font-size="17" text-anchor="middle" font-weight="normal" >200</text>
<text class="sm" x="223.2" y="967.8" font-size="13.4" text-anchor="start" font-weight="normal" >Sequence annotation</text>
<line x1="211.8" y1="980.4" x2="234" y2="980.4" stroke="#d42020" stroke-width="1.6"/>
<text class="sm" x="240.6" y="983.4" font-size="12.5" text-anchor="start" font-weight="normal" >'Actin'</text>
<line x1="211.8" y1="994.9" x2="234" y2="994.9" stroke="#2f45d8" stroke-width="1.6"/>
<text class="sm" x="240.6" y="997.9" font-size="12.5" text-anchor="start" font-weight="normal" >'Tubulin'</text>
<line x1="211.8" y1="1009.4" x2="234" y2="1009.4" stroke="#7ee6ee" stroke-width="1.6"/>
<text class="sm" x="240.6" y="1012.4" font-size="12.5" text-anchor="start" font-weight="normal" >'Elongation Factor'</text>
<line x1="211.8" y1="1024.0" x2="234" y2="1024.0" stroke="#1a1a1a" stroke-width="1.6"/>
<text class="sm" x="240.6" y="1027.0" font-size="12.5" text-anchor="start" font-weight="normal" >'GTPase / GTP binding protein'</text>
<line x1="211.8" y1="1038.5" x2="234" y2="1038.5" stroke="#f2b22e" stroke-width="1.6"/>
<text class="sm" x="240.6" y="1041.5" font-size="12.5" text-anchor="start" font-weight="normal" >'Ribosylation'</text>
<line x1="211.8" y1="1053.0" x2="234" y2="1053.0" stroke="#7ee02a" stroke-width="1.6"/>
<text class="sm" x="240.6" y="1056.0" font-size="12.5" text-anchor="start" font-weight="normal" >'Calmodulin / Calcium binding protein'</text>
<line x1="211.8" y1="1067.5" x2="234" y2="1067.5" stroke="#bb2fd0" stroke-width="1.6"/>
<text class="sm" x="240.6" y="1070.5" font-size="12.5" text-anchor="start" font-weight="normal" >'Kinase'</text>
<path d="M180.9,1293.5 C181.6,1293.7 183.3,1294.7 184.9,1294.7 C186.5,1294.7 189.1,1293.5 190.6,1293.5 C192.1,1293.9 192.9,1296.0 194.1,1296.9 C195.2,1297.9 196.2,1298.7 197.5,1299.2 C198.8,1299.7 200.6,1299.4 202.1,1299.8 C203.6,1300.2 205.2,1301.2 206.7,1301.5 C208.2,1301.5 209.7,1301.5 211.2,1301.5 C212.7,1301.1 214.4,1299.8 215.8,1299.2 C217.2,1298.6 218.5,1298.1 219.8,1298.1 C221.2,1298.1 222.5,1299.0 223.9,1299.2 C225.3,1299.2 226.9,1299.2 228.4,1299.2 C229.9,1299.3 231.5,1299.5 233.0,1299.8 C234.5,1300.1 236.1,1300.9 237.6,1300.9 C239.1,1300.8 240.7,1299.7 242.2,1299.2 C243.7,1298.7 245.1,1298.1 246.8,1298.1 C248.5,1298.1 250.8,1298.7 252.5,1299.2 C254.2,1299.7 255.8,1300.8 257.1,1300.9 C258.4,1300.9 259.4,1300.9 260.5,1299.8 C261.6,1298.1 263.1,1292.2 264.0,1290.6 C264.9,1290.1 264.9,1290.1 266.0,1290.1 C267.1,1290.6 269.1,1292.5 270.6,1293.5 C272.1,1294.5 273.9,1295.8 275.2,1295.8 C276.5,1294.6 277.7,1288.7 278.6,1286.6 C279.6,1284.5 279.9,1283.2 280.9,1283.2 C281.8,1284.4 283.0,1291.4 284.3,1293.5 C285.6,1295.6 287.5,1294.8 288.9,1295.8 C290.2,1296.8 291.2,1299.2 292.4,1299.2 C293.5,1299.0 294.5,1295.7 295.8,1294.7 C297.1,1293.8 298.9,1293.7 300.4,1293.5 C301.9,1293.5 303.9,1293.5 305.0,1293.5 C306.1,1291.4 306.5,1283.6 307.3,1280.9 C308.1,1278.2 308.5,1279.8 309.6,1277.5 C310.8,1275.2 312.7,1269.0 314.2,1267.1 C315.7,1266.0 317.2,1266.0 318.7,1266.0 C320.2,1266.4 321.9,1268.9 323.3,1269.4 C324.7,1269.4 325.7,1269.3 326.8,1268.9 C327.9,1268.5 329.2,1267.1 330.2,1267.1 C331.1,1267.6 331.7,1269.4 332.5,1271.7 C333.3,1274.0 333.9,1278.4 334.8,1280.9 C335.8,1283.4 337.1,1286.2 338.2,1286.6 C339.3,1286.6 340.5,1285.7 341.7,1283.2 C342.9,1280.7 344.0,1274.4 345.1,1271.7 C346.2,1269.0 347.4,1267.5 348.5,1267.1 C349.6,1267.1 350.8,1268.8 352.0,1269.4 C353.2,1270.0 355.2,1270.6 356.0,1270.6 C356.8,1269.8 356.3,1267.3 356.9,1264.8 C357.5,1262.3 358.8,1259.1 359.7,1255.7 C360.6,1252.3 361.2,1247.5 362.0,1244.2 C362.8,1241.0 363.4,1237.0 364.3,1236.2 C365.2,1236.2 366.1,1238.4 367.2,1239.6 C368.2,1240.8 369.5,1243.0 370.6,1243.1 C371.8,1243.1 373.1,1241.9 374.1,1240.2 C375.2,1238.5 375.8,1235.3 376.9,1232.7 C377.9,1230.1 379.2,1226.6 380.4,1224.7 C381.5,1222.8 382.7,1221.3 383.8,1221.3 C384.9,1221.3 386.2,1223.0 387.2,1224.7 C388.1,1226.4 388.8,1228.9 389.5,1231.6 C390.2,1234.3 390.7,1240.0 391.3,1240.8 C391.9,1240.8 392.4,1240.8 393.0,1236.2 C393.6,1231.1 393.9,1221.5 394.7,1210.0 C395.5,1198.5 396.7,1177.8 397.6,1167.5 C398.5,1157.2 399.0,1153.2 399.9,1148.0 C400.8,1142.8 401.8,1136.3 402.7,1136.3 C403.6,1136.3 404.4,1140.0 405.0,1148.0 C405.6,1156.0 406.1,1173.7 406.5,1184.0 C406.9,1194.3 407.3,1201.9 407.7,1210.0 C408.1,1218.1 408.4,1232.0 409.0,1232.7 C409.6,1232.7 410.6,1224.3 411.3,1214.4 C412.0,1204.5 412.2,1187.7 413.0,1173.2 C413.8,1158.7 415.0,1140.7 415.9,1127.3 C416.8,1113.9 417.5,1100.1 418.2,1092.9 C418.9,1085.7 419.2,1084.3 419.9,1084.3 C420.6,1084.3 421.3,1085.7 422.2,1092.9 C423.1,1100.1 424.1,1114.9 425.1,1127.3 C426.2,1139.7 427.6,1156.0 428.5,1167.5 C429.4,1179.0 430.1,1188.2 430.8,1196.1 C431.5,1204.0 431.9,1208.1 432.5,1215.0 C433.1,1221.9 433.6,1229.4 434.3,1237.3 C435.0,1245.2 435.8,1257.9 436.5,1262.5 C437.2,1264.8 437.5,1264.8 438.3,1264.8 C439.1,1261.8 440.4,1249.5 441.1,1244.2 C441.8,1238.9 442.0,1233.0 442.5,1233.0 C443.0,1233.0 443.6,1239.9 444.3,1244.2 C445.0,1248.5 445.8,1258.3 446.6,1259.1 C447.4,1259.1 448.1,1254.3 448.9,1248.8 C449.7,1243.3 450.6,1232.4 451.2,1225.9 C451.8,1219.4 451.5,1220.7 452.3,1210.0 C453.1,1199.3 454.7,1175.5 455.8,1161.7 C456.9,1147.9 458.1,1127.3 459.0,1127.3 C459.9,1127.3 460.3,1147.9 460.9,1161.7 C461.5,1175.5 462.0,1193.6 462.6,1210.0 C463.2,1226.4 463.9,1250.4 464.4,1260.3 C464.9,1269.4 464.9,1269.4 465.5,1269.4 C466.1,1267.5 467.0,1256.4 467.8,1248.8 C468.6,1241.2 469.4,1228.2 470.1,1223.6 C470.8,1221.3 471.1,1221.3 471.8,1221.3 C472.5,1222.8 473.3,1229.7 474.1,1232.7 C474.9,1235.8 475.4,1238.2 476.4,1239.6 C477.3,1240.8 478.8,1240.0 479.8,1240.8 C480.9,1241.6 481.7,1242.1 482.7,1244.2 C483.7,1246.3 484.6,1250.2 485.6,1253.4 C486.7,1256.7 487.9,1261.4 489.0,1263.7 C490.1,1266.0 491.1,1267.1 491.9,1267.1 C492.7,1264.6 493.0,1257.6 493.6,1248.8 C494.2,1240.0 494.8,1225.1 495.3,1214.4 C495.8,1203.7 496.1,1190.5 496.5,1184.7 C496.9,1179.5 497.5,1179.5 498.0,1179.5 C498.5,1179.5 498.8,1179.6 499.3,1184.7 C499.8,1189.8 500.3,1198.4 501.0,1210.0 C501.7,1221.6 502.4,1244.2 503.3,1254.5 C504.2,1264.8 505.1,1267.5 506.2,1271.7 C507.2,1275.9 508.5,1279.7 509.6,1279.7 C510.8,1279.7 512.0,1276.9 513.1,1271.7 C514.2,1266.5 515.1,1256.0 516.0,1248.8 C516.9,1241.5 517.4,1232.6 518.2,1228.2 C519.1,1223.8 520.1,1222.4 521.1,1222.4 C522.1,1222.6 523.1,1225.7 524.0,1229.3 C524.9,1232.9 525.5,1238.1 526.3,1244.2 C527.1,1250.3 527.6,1260.1 528.6,1266.0 C529.6,1271.9 531.2,1277.2 532.0,1279.7 C532.8,1280.9 532.4,1280.9 533.4,1280.9 C534.4,1280.7 536.6,1280.1 538.0,1278.6 C539.4,1277.1 540.1,1273.0 541.5,1271.7 C542.9,1270.6 544.6,1270.6 546.1,1270.6 C547.6,1271.0 549.3,1274.0 550.6,1274.0 C551.9,1274.0 553.0,1272.5 554.1,1270.6 C555.2,1268.7 556.4,1265.6 557.5,1262.5 C558.6,1259.4 559.7,1255.4 560.5,1252.0 C561.3,1248.6 562.0,1244.5 562.5,1242.2 C563.0,1240.0 563.3,1238.5 563.7,1238.5 C564.1,1242.7 564.4,1257.2 565.0,1267.2 C565.6,1277.2 566.5,1292.3 567.5,1298.3 C568.5,1303.3 567.5,1302.5 571.2,1303.3 C576.6,1303.3 595.2,1303.3 600.0,1303.3" fill="none" stroke="#d81c1c" stroke-width="2.0" stroke-linejoin="round" stroke-linecap="round"/>
<path d="M181.2,1268.0 C181.5,1263.3 182.2,1248.6 183.0,1240.0 C183.8,1231.4 185.2,1216.5 186.3,1216.5 C187.4,1217.2 188.4,1235.0 189.5,1244.2 C190.6,1253.4 191.7,1264.2 192.9,1271.7 C194.1,1279.2 195.4,1285.8 196.9,1288.9 C198.4,1290.1 200.3,1290.1 202.1,1290.1 C203.9,1289.2 206.1,1285.0 207.8,1283.8 C209.5,1282.6 210.9,1282.6 212.4,1282.6 C213.9,1282.8 215.7,1284.2 217.0,1284.9 C218.3,1285.6 219.1,1286.2 220.4,1286.6 C221.7,1287.0 223.7,1286.6 225.0,1287.2 C226.3,1288.4 227.1,1292.1 228.4,1293.5 C229.7,1294.9 231.8,1295.6 233.0,1295.8 C234.2,1295.8 234.3,1294.7 235.3,1294.7 C236.3,1295.1 237.7,1298.0 238.8,1298.1 C240.0,1298.1 240.9,1297.0 242.2,1295.2 C243.5,1293.4 245.5,1288.5 246.8,1287.2 C248.1,1287.2 249.0,1287.2 250.2,1287.2 C251.3,1288.2 252.3,1292.1 253.7,1293.5 C255.0,1294.9 256.8,1295.6 258.3,1295.8 C259.8,1295.8 261.5,1294.7 262.8,1294.7 C264.1,1294.9 264.5,1296.5 266.0,1296.9 C267.5,1296.9 269.8,1296.9 271.7,1296.9 C273.6,1295.8 275.8,1291.8 277.5,1290.1 C279.2,1288.4 280.6,1287.0 282.1,1286.6 C283.6,1286.6 285.0,1287.8 286.6,1287.8 C288.2,1286.8 290.5,1280.9 291.8,1280.9 C293.1,1281.3 293.5,1288.0 294.7,1290.1 C295.9,1292.2 297.7,1293.5 299.2,1293.5 C300.7,1293.1 302.4,1288.4 303.8,1287.8 C305.2,1287.8 306.0,1290.1 307.3,1290.1 C308.6,1288.2 310.4,1280.1 311.9,1276.3 C313.4,1272.5 315.1,1267.5 316.4,1267.1 C317.7,1267.1 318.8,1270.2 319.9,1274.0 C321.0,1277.8 322.4,1286.6 323.3,1290.1 C324.2,1293.5 324.5,1294.7 325.6,1294.7 C326.8,1293.2 328.7,1284.7 330.2,1280.9 C331.7,1277.1 333.5,1273.4 334.8,1271.7 C336.1,1270.6 336.9,1270.6 338.2,1270.6 C339.5,1271.2 341.4,1274.0 342.8,1275.2 C344.2,1276.4 345.2,1277.5 346.3,1277.5 C347.4,1276.5 348.6,1270.9 349.7,1269.4 C350.8,1268.3 352.1,1268.3 353.1,1268.3 C354.2,1268.3 355.4,1268.3 356.0,1269.4 C356.6,1270.9 356.1,1274.2 356.9,1277.5 C357.7,1280.8 359.6,1286.8 360.9,1288.9 C362.2,1290.1 363.7,1290.1 364.9,1290.1 C366.1,1289.5 367.2,1287.6 368.3,1285.5 C369.4,1283.4 370.3,1281.7 371.2,1277.5 C372.1,1273.3 372.7,1267.1 373.5,1260.3 C374.3,1253.5 375.0,1238.7 375.8,1236.8 C376.6,1236.8 377.3,1244.1 378.1,1248.8 C378.9,1253.5 379.6,1263.6 380.4,1264.8 C381.2,1264.8 381.8,1259.1 382.7,1255.7 C383.6,1252.3 384.6,1248.6 385.5,1244.2 C386.4,1239.8 387.5,1234.3 388.4,1229.3 C389.3,1224.3 389.8,1217.4 390.7,1214.4 C391.6,1211.5 392.7,1211.5 393.6,1211.5 C394.6,1211.9 395.2,1215.4 396.4,1216.7 C397.6,1218.0 399.7,1219.4 401.0,1219.6 C402.3,1219.6 403.2,1218.7 404.4,1217.8 C405.5,1216.9 406.9,1216.9 407.9,1214.4 C408.9,1211.9 409.5,1207.9 410.2,1202.9 C410.9,1198.0 411.2,1188.7 411.9,1184.7 C412.6,1180.7 413.4,1178.9 414.2,1178.9 C415.0,1179.9 415.8,1185.6 416.5,1190.4 C417.2,1195.2 417.5,1201.7 418.2,1207.6 C418.9,1213.5 419.7,1224.4 420.5,1225.9 C421.3,1225.9 421.9,1220.1 422.8,1216.7 C423.8,1213.3 425.1,1207.2 426.2,1205.8 C427.3,1205.8 428.5,1207.7 429.7,1208.1 C430.9,1208.1 432.0,1208.1 433.1,1208.1 C434.2,1207.6 435.6,1208.1 436.5,1205.3 C437.4,1202.3 438.0,1196.7 438.8,1190.4 C439.6,1184.1 440.2,1174.2 441.1,1167.5 C442.0,1160.8 443.2,1154.0 444.3,1150.3 C445.4,1146.6 446.6,1145.1 447.7,1145.1 C448.8,1145.5 449.7,1150.2 450.6,1152.5 C451.5,1154.8 452.1,1158.9 452.9,1158.9 C453.7,1158.5 454.3,1156.0 455.2,1150.3 C456.1,1144.6 457.2,1133.6 458.1,1125.0 C459.1,1116.4 459.9,1105.5 460.9,1098.7 C461.8,1091.9 462.9,1085.3 463.8,1084.3 C464.7,1084.3 465.3,1087.6 466.1,1092.9 C466.9,1098.2 467.5,1108.2 468.4,1115.9 C469.2,1123.6 470.3,1132.7 471.2,1138.8 C472.1,1144.9 472.6,1148.9 473.5,1152.5 C474.4,1156.1 475.3,1158.3 476.4,1160.6 C477.4,1162.9 478.9,1164.2 479.8,1166.3 C480.8,1168.4 481.4,1169.2 482.1,1173.2 C482.8,1177.2 483.2,1185.5 483.8,1190.4 C484.4,1195.4 484.9,1199.1 485.6,1202.9 C486.3,1206.7 486.9,1210.9 487.9,1213.2 C488.8,1215.5 490.4,1216.7 491.3,1216.7 C492.2,1216.0 492.4,1213.2 493.0,1208.7 C493.6,1204.2 494.2,1195.9 494.7,1190.0 C495.2,1184.1 495.3,1177.6 495.9,1173.2 C496.5,1168.8 497.5,1163.4 498.2,1163.4 C498.9,1163.4 499.3,1166.3 499.9,1173.2 C500.5,1180.1 500.9,1196.6 501.6,1205.0 C502.3,1213.4 502.9,1219.0 503.9,1223.6 C504.9,1228.2 506.2,1230.6 507.4,1232.7 C508.5,1234.8 509.7,1235.6 510.8,1236.2 C511.9,1236.2 513.3,1236.2 514.2,1236.2 C515.1,1238.3 515.4,1243.8 516.0,1248.8 C516.6,1253.8 517.1,1259.3 517.7,1266.0 C518.3,1272.7 518.6,1284.9 519.4,1288.9 C520.2,1290.1 521.2,1290.1 522.3,1290.1 C523.3,1289.9 524.6,1288.9 525.7,1287.8 C526.8,1286.7 527.8,1283.6 529.1,1283.2 C530.4,1283.2 532.1,1284.3 533.4,1285.5 C534.7,1286.7 535.8,1290.1 536.9,1290.1 C538.0,1289.5 538.8,1284.7 539.7,1282.0 C540.7,1279.3 541.7,1274.6 542.6,1274.0 C543.5,1274.0 544.1,1276.4 544.9,1278.6 C545.7,1280.8 546.4,1287.0 547.2,1287.2 C548.0,1287.2 548.6,1283.4 549.5,1279.7 C550.4,1276.0 551.5,1268.0 552.4,1264.8 C553.2,1261.6 553.8,1260.9 554.6,1260.3 C555.5,1260.3 556.5,1260.3 557.5,1261.4 C558.5,1262.9 559.5,1266.2 560.4,1269.4 C561.3,1272.7 561.9,1277.9 562.7,1280.9 C563.5,1283.9 564.2,1287.0 565.0,1287.2 C565.8,1287.2 566.3,1285.0 567.3,1282.0 C568.2,1279.0 569.4,1274.0 570.7,1269.4 C572.0,1264.9 573.8,1265.5 574.9,1254.7 C576.0,1243.9 576.6,1218.3 577.4,1204.8 C578.2,1191.3 579.2,1179.7 579.9,1173.6 C580.6,1168.0 580.9,1168.0 581.4,1168.0 C581.9,1168.0 582.4,1168.0 583.0,1173.6 C583.6,1183.9 584.4,1212.1 584.9,1229.8 C585.4,1247.5 585.8,1268.4 586.2,1279.6 C586.6,1290.8 586.6,1293.8 587.4,1297.1 C588.2,1299.6 589.8,1298.9 591.1,1299.6 C592.4,1300.3 593.7,1301.0 595.4,1301.5 C597.1,1302.0 599.0,1302.6 601.1,1302.7 C603.2,1302.7 606.2,1302.5 608.0,1302.1 C609.8,1301.7 610.9,1300.6 612.0,1300.2 C613.1,1299.8 613.6,1299.5 614.5,1299.5 C615.4,1299.8 616.2,1301.5 617.1,1302.1 C618.0,1302.7 619.5,1303.1 620.0,1303.3" fill="none" stroke="#2a3fd8" stroke-width="2.0" stroke-linejoin="round" stroke-linecap="round"/>
<path d="M180.9,1264.8 C181.7,1266.2 184.3,1272.9 185.5,1272.9 C186.7,1272.2 187.2,1264.7 188.3,1260.3 C189.4,1255.9 190.7,1250.1 191.8,1246.5 C193.0,1242.9 193.9,1240.4 195.2,1238.5 C196.5,1236.6 198.1,1235.2 199.8,1235.0 C201.5,1235.0 203.4,1236.0 205.5,1237.3 C207.6,1238.5 210.3,1242.2 212.4,1242.5 C214.5,1242.5 216.6,1239.0 218.1,1239.0 C219.6,1239.2 220.4,1239.7 221.6,1243.6 C222.8,1247.5 223.9,1260.1 225.0,1262.5 C226.1,1262.5 226.9,1261.8 228.4,1258.0 C229.9,1254.2 232.3,1241.3 234.2,1239.6 C236.1,1239.6 237.8,1244.9 239.9,1247.6 C242.0,1250.3 244.9,1252.8 246.8,1255.7 C248.7,1258.6 249.9,1262.9 251.4,1264.8 C252.9,1266.7 254.5,1266.5 256.0,1267.1 C257.5,1267.7 259.2,1267.7 260.5,1268.3 C261.8,1268.9 263.1,1270.6 264.0,1270.6 C264.9,1269.3 265.1,1263.8 266.0,1260.3 C266.9,1256.8 267.9,1250.1 269.4,1249.9 C270.9,1249.9 273.4,1259.1 275.2,1259.1 C277.0,1258.4 278.4,1245.9 280.3,1245.9 C282.2,1246.4 284.0,1261.0 286.6,1262.0 C289.2,1262.0 293.5,1253.2 295.8,1252.2 C298.1,1252.2 298.9,1253.2 300.4,1255.7 C301.9,1258.2 303.7,1263.8 305.0,1267.1 C306.3,1270.3 307.2,1275.2 308.4,1275.2 C309.5,1272.2 310.9,1256.6 311.9,1248.8 C312.9,1241.0 313.1,1232.4 314.2,1228.2 C315.3,1224.0 317.2,1225.3 318.7,1223.6 C320.2,1221.9 322.1,1220.3 323.3,1217.8 C324.5,1215.3 325.0,1212.5 325.6,1208.7 C326.2,1204.9 326.4,1201.8 326.8,1195.0 C327.2,1188.2 327.7,1176.9 328.3,1167.8 C328.9,1158.7 329.7,1145.9 330.3,1140.3 C330.9,1134.7 331.4,1134.9 332.2,1134.0 C333.0,1134.0 334.4,1134.0 335.2,1134.9 C336.0,1136.0 336.4,1134.9 336.8,1140.3 C337.2,1145.8 337.1,1157.8 337.4,1167.8 C337.7,1177.8 338.0,1188.0 338.5,1200.0 C339.0,1212.0 339.8,1230.3 340.5,1240.0 C341.2,1249.7 341.9,1253.5 342.5,1258.0 C343.1,1262.5 343.4,1264.4 344.0,1267.1 C344.6,1269.8 345.4,1273.0 346.3,1274.0 C347.2,1274.0 348.6,1272.9 349.7,1272.9 C350.8,1274.4 352.1,1281.1 353.1,1283.2 C354.2,1285.3 355.1,1285.1 356.0,1285.5 C356.9,1285.5 357.7,1285.5 358.6,1285.5 C359.5,1284.2 360.7,1281.3 361.5,1277.5 C362.3,1273.7 362.5,1265.6 363.2,1262.5 C363.9,1259.4 364.6,1259.1 365.5,1259.1 C366.4,1259.5 367.4,1263.5 368.3,1264.8 C369.2,1266.1 370.1,1267.1 371.2,1267.1 C372.2,1266.7 373.5,1264.8 374.6,1262.5 C375.8,1260.2 377.1,1255.7 378.1,1253.4 C379.2,1251.1 379.9,1249.2 380.9,1248.8 C381.8,1248.8 382.8,1251.1 383.8,1251.1 C384.8,1250.7 385.8,1248.4 386.7,1246.5 C387.6,1244.6 388.6,1242.3 389.5,1239.6 C390.4,1236.9 391.1,1232.1 391.8,1230.4 C392.5,1229.3 393.0,1229.3 393.6,1229.3 C394.2,1230.8 394.6,1236.0 395.3,1239.6 C396.0,1243.2 396.5,1248.0 397.6,1251.1 C398.8,1254.2 400.7,1256.5 402.2,1258.0 C403.7,1259.5 405.2,1260.3 406.7,1260.3 C408.2,1260.3 410.1,1259.2 411.3,1258.0 C412.6,1256.8 413.2,1253.4 414.2,1253.4 C415.2,1253.4 416.0,1256.5 417.1,1258.0 C418.2,1259.5 419.8,1262.5 421.1,1262.5 C422.4,1262.1 423.9,1258.8 425.1,1255.7 C426.3,1252.7 427.4,1247.7 428.5,1244.2 C429.6,1240.8 430.9,1235.0 432.0,1235.0 C433.1,1235.0 433.9,1240.2 434.8,1244.2 C435.8,1248.2 436.6,1257.2 437.7,1259.1 C438.8,1259.1 440.1,1257.0 441.1,1255.7 C442.2,1254.4 443.3,1253.0 444.0,1251.1 C444.7,1249.2 444.4,1246.3 445.4,1244.2 C446.4,1242.1 448.5,1239.8 450.0,1238.5 C451.5,1237.2 453.1,1236.4 454.6,1236.2 C456.1,1236.2 457.7,1236.7 459.2,1237.3 C460.7,1237.9 462.3,1238.8 463.8,1239.6 C465.3,1240.4 466.9,1241.9 468.4,1241.9 C469.9,1240.6 471.7,1235.0 473.0,1231.6 C474.3,1228.2 475.3,1225.5 476.4,1221.3 C477.5,1217.1 478.9,1212.5 479.8,1206.4 C480.8,1200.3 481.3,1194.1 482.1,1184.7 C482.9,1175.3 483.7,1159.5 484.4,1150.3 C485.1,1141.1 485.5,1134.2 486.1,1129.6 C486.7,1125.0 487.2,1122.7 487.9,1122.7 C488.6,1123.3 489.2,1128.9 490.2,1133.1 C491.1,1137.3 492.5,1143.4 493.6,1148.0 C494.7,1152.6 495.9,1160.6 497.0,1160.6 C498.1,1160.6 498.9,1152.1 499.9,1148.0 C500.9,1143.9 502.0,1135.9 502.8,1135.9 C503.6,1136.3 503.9,1142.2 504.5,1150.3 C505.1,1158.4 505.7,1173.9 506.2,1184.7 C506.7,1195.5 507.0,1204.3 507.4,1215.0 C507.8,1225.7 507.9,1240.9 508.5,1248.8 C509.1,1256.7 509.9,1259.2 510.8,1262.5 C511.8,1265.8 513.1,1268.3 514.2,1268.3 C515.4,1268.3 516.6,1264.4 517.7,1262.5 C518.9,1260.6 520.0,1257.9 521.1,1256.8 C522.2,1255.7 523.4,1255.7 524.5,1255.7 C525.6,1256.7 526.8,1259.5 528.0,1262.5 C529.2,1265.5 531.1,1271.5 532.0,1274.0 C532.9,1276.5 532.6,1277.1 533.4,1277.5 C534.2,1277.5 535.6,1277.5 536.9,1276.3 C538.1,1274.6 539.8,1270.9 540.9,1267.1 C542.0,1263.3 542.6,1257.0 543.8,1253.4 C544.9,1249.8 546.6,1246.0 547.8,1245.4 C549.0,1245.4 550.0,1248.4 551.2,1249.9 C552.4,1251.5 553.5,1253.1 555.0,1254.7 C556.5,1256.3 558.8,1257.6 560.0,1259.7 C561.2,1261.8 561.5,1263.9 562.5,1267.2 C563.5,1270.5 564.1,1277.2 566.2,1279.6 C568.3,1281.5 572.2,1281.0 574.9,1281.5 C577.6,1282.0 580.3,1282.7 582.4,1282.7 C584.5,1282.4 585.5,1281.4 587.4,1279.6 C589.3,1277.8 591.8,1272.9 593.6,1272.1 C595.4,1272.1 596.5,1272.1 598.0,1274.6 C599.5,1277.5 601.2,1288.8 602.6,1289.6 C604.0,1289.6 605.5,1284.2 606.6,1279.7 C607.7,1275.2 608.4,1274.2 609.2,1262.5 C610.0,1250.8 610.6,1226.1 611.2,1209.5 C611.8,1192.9 612.5,1171.6 613.0,1163.1 C613.5,1158.5 614.0,1158.5 614.5,1158.5 C615.0,1159.6 615.4,1161.2 615.9,1169.7 C616.4,1178.2 616.8,1196.2 617.2,1209.5 C617.6,1222.8 618.1,1236.0 618.5,1249.2 C618.9,1262.5 619.4,1280.2 619.8,1289.0 C620.2,1297.8 620.7,1300.0 620.9,1302.2" fill="none" stroke="#7ee6ee" stroke-width="2.0" stroke-linejoin="round" stroke-linecap="round"/>
<path d="M180.9,1283.2 C181.3,1284.3 182.3,1287.9 183.2,1290.1 C184.0,1292.3 184.9,1295.2 186.0,1296.4 C187.1,1297.5 188.3,1297.5 189.5,1297.5 C190.7,1297.3 191.8,1295.9 192.9,1295.2 C194.0,1294.5 195.2,1293.6 196.3,1293.5 C197.5,1293.5 198.7,1294.1 199.8,1294.7 C201.0,1295.3 202.1,1296.9 203.2,1296.9 C204.2,1296.5 205.2,1293.5 206.1,1292.4 C207.0,1291.3 207.8,1290.1 208.7,1290.1 C209.5,1290.8 210.3,1294.9 211.2,1296.9 C212.1,1298.9 213.1,1301.8 214.1,1302.1 C215.1,1302.1 215.9,1299.5 217.0,1298.7 C218.1,1297.9 219.2,1297.5 220.4,1297.5 C221.6,1297.7 222.8,1299.8 223.9,1299.8 C225.1,1299.5 226.1,1298.5 227.3,1295.8 C228.5,1293.1 230.1,1284.9 231.3,1283.8 C232.6,1283.8 233.8,1287.3 234.8,1288.9 C235.9,1290.5 236.6,1293.2 237.6,1293.5 C238.6,1293.5 239.9,1290.6 241.1,1290.6 C242.2,1290.8 243.4,1293.3 244.5,1294.7 C245.6,1296.1 247.0,1299.2 247.9,1299.2 C248.8,1298.4 249.3,1292.7 250.2,1290.1 C251.1,1287.5 252.1,1283.8 253.1,1283.8 C254.1,1283.8 255.1,1287.1 256.0,1290.1 C256.9,1293.0 257.6,1299.4 258.3,1301.5 C259.1,1302.7 259.6,1302.7 260.5,1302.7 C261.4,1301.4 263.0,1296.6 264.0,1293.5 C265.0,1290.4 265.2,1286.4 266.5,1284.0 C267.8,1281.6 269.9,1279.2 271.7,1279.2 C273.5,1279.2 275.6,1282.1 277.5,1283.8 C279.4,1285.5 281.3,1288.5 283.2,1289.5 C285.1,1290.1 286.8,1290.1 288.9,1290.1 C291.0,1290.1 293.7,1289.8 295.8,1289.5 C297.9,1289.2 300.0,1289.3 301.5,1288.3 C303.0,1287.2 303.9,1286.2 305.0,1283.2 C306.1,1280.2 307.4,1272.3 308.4,1270.6 C309.3,1270.6 309.9,1271.2 310.7,1272.9 C311.5,1274.6 312.1,1278.4 313.0,1280.9 C313.9,1283.4 315.1,1285.9 316.4,1287.8 C317.7,1289.7 319.6,1291.2 321.0,1292.4 C322.4,1293.6 323.9,1295.2 325.0,1295.2 C326.1,1293.1 326.8,1285.5 327.9,1279.7 C329.0,1273.9 330.4,1262.0 331.4,1260.3 C332.3,1260.3 332.9,1265.6 333.6,1269.4 C334.4,1273.2 334.9,1280.0 335.9,1283.2 C336.9,1286.5 338.0,1287.5 339.4,1288.9 C340.8,1290.3 342.5,1291.8 344.0,1291.8 C345.5,1291.6 347.0,1290.2 348.5,1287.8 C350.0,1285.4 351.9,1278.8 353.1,1277.5 C354.4,1277.5 355.5,1278.6 356.0,1279.7 C356.3,1280.8 356.0,1282.6 356.3,1284.3 C356.8,1286.0 358.2,1289.5 359.2,1290.1 C360.1,1290.1 361.1,1289.1 362.0,1287.8 C362.9,1286.5 363.9,1283.9 364.9,1282.0 C365.9,1280.1 366.9,1277.7 367.8,1276.3 C368.8,1274.9 369.8,1273.4 370.6,1273.4 C371.5,1273.6 372.1,1275.9 372.9,1277.5 C373.7,1279.1 374.4,1283.2 375.2,1283.2 C376.0,1283.2 376.7,1281.0 377.5,1277.5 C378.3,1274.0 378.9,1265.6 379.8,1262.5 C380.7,1259.4 381.8,1260.6 382.7,1259.1 C383.6,1257.6 384.6,1253.9 385.5,1253.4 C386.4,1253.4 387.3,1254.7 388.4,1256.2 C389.4,1257.7 390.6,1261.0 391.8,1262.5 C393.0,1264.0 394.2,1264.6 395.3,1265.4 C396.4,1266.2 397.2,1265.7 398.1,1267.1 C399.1,1268.5 400.1,1271.9 401.0,1274.0 C401.9,1276.1 402.5,1278.9 403.3,1279.7 C404.1,1279.7 404.7,1279.7 405.6,1278.6 C406.6,1275.7 408.1,1264.0 409.0,1262.5 C409.9,1262.5 410.5,1266.7 411.3,1269.4 C412.1,1272.1 412.8,1276.9 413.6,1278.6 C414.4,1279.7 415.1,1279.7 415.9,1279.7 C416.7,1278.2 417.3,1271.7 418.2,1269.4 C419.1,1267.1 420.2,1266.0 421.1,1266.0 C422.1,1266.8 423.0,1271.5 423.9,1274.0 C424.8,1276.5 425.4,1280.9 426.2,1280.9 C427.0,1279.0 427.7,1269.8 428.5,1262.5 C429.3,1255.2 429.9,1243.4 430.8,1237.3 C431.7,1231.2 432.8,1228.3 433.7,1225.9 C434.6,1223.5 435.1,1223.0 436.0,1223.0 C436.9,1223.0 437.9,1224.3 438.8,1225.9 C439.8,1227.5 440.8,1229.7 441.7,1232.7 C442.6,1235.8 443.3,1240.6 444.3,1244.2 C445.3,1247.8 446.6,1251.8 447.7,1254.5 C448.8,1257.2 449.9,1258.9 451.2,1260.3 C452.4,1261.7 453.9,1262.8 455.2,1263.1 C456.5,1263.1 458.0,1263.1 459.2,1262.0 C460.4,1259.6 461.2,1252.5 462.1,1248.8 C463.1,1245.1 463.7,1241.7 464.9,1239.6 C466.1,1237.5 468.2,1236.2 469.5,1236.2 C470.8,1236.6 471.4,1239.4 472.4,1241.9 C473.3,1244.4 474.1,1248.0 475.2,1251.1 C476.2,1254.2 477.6,1257.8 478.7,1260.3 C479.8,1262.8 480.6,1265.6 481.6,1266.0 C482.7,1266.0 483.9,1264.2 485.0,1262.5 C486.1,1260.8 486.8,1259.1 487.9,1255.7 C488.9,1252.3 490.2,1246.9 491.3,1241.9 C492.4,1236.9 493.6,1230.1 494.7,1225.9 C495.8,1221.7 496.7,1217.1 497.6,1216.7 C498.5,1216.7 499.2,1220.2 499.9,1223.6 C500.6,1227.0 500.9,1232.3 501.6,1237.3 C502.3,1242.3 503.0,1251.1 503.9,1253.4 C504.8,1253.4 505.8,1251.8 506.8,1251.1 C507.9,1250.4 509.1,1249.4 510.2,1249.4 C511.2,1249.6 512.2,1251.7 513.1,1252.2 C514.0,1252.2 514.6,1252.2 515.4,1252.2 C516.2,1251.1 516.8,1247.1 517.7,1245.4 C518.7,1243.7 520.0,1243.2 521.1,1241.9 C522.2,1240.6 523.6,1239.6 524.5,1237.3 C525.4,1235.0 526.0,1232.9 526.6,1228.0 C527.2,1223.1 527.5,1214.3 528.0,1208.0 C528.5,1201.7 528.9,1194.4 529.6,1190.0 C530.3,1185.6 531.2,1182.8 532.0,1181.5 C532.8,1181.5 533.7,1181.5 534.5,1182.0 C535.3,1182.9 536.0,1183.8 536.9,1186.9 C537.8,1190.0 538.9,1195.8 539.7,1200.6 C540.6,1205.4 541.3,1214.0 542.0,1215.5 C542.7,1215.5 543.2,1213.4 543.8,1209.8 C544.4,1206.2 544.8,1200.4 545.5,1193.8 C546.2,1187.2 547.1,1176.3 548.3,1170.0 C549.5,1163.7 551.4,1158.8 552.6,1155.8 C553.8,1152.8 554.4,1153.1 555.3,1152.3 C556.2,1151.5 557.3,1151.2 558.1,1151.2 C558.9,1153.7 559.4,1154.3 560.0,1167.4 C560.6,1180.5 561.2,1215.2 561.8,1229.8 C562.4,1244.3 563.1,1246.4 563.7,1254.7 C564.3,1263.0 565.0,1272.8 565.6,1279.6 C566.2,1286.4 566.8,1291.8 567.5,1295.8 C568.2,1299.8 568.8,1302.5 570.0,1303.3 C571.2,1303.3 573.2,1300.9 574.9,1300.8 C576.5,1300.8 578.5,1302.3 579.9,1302.7 C581.2,1303.1 582.5,1303.2 583.0,1303.3" fill="none" stroke="#1a1a1a" stroke-width="2.0" stroke-linejoin="round" stroke-linecap="round"/>
<path d="M180.9,1302.1 C182.3,1302.0 186.6,1301.5 189.5,1301.5 C192.4,1301.7 195.5,1303.2 198.6,1303.3 C201.7,1303.3 205.1,1302.2 207.8,1302.1 C210.5,1302.1 212.1,1302.5 215.0,1302.5 C217.9,1302.5 221.7,1302.0 225.0,1302.0 C228.3,1302.0 231.7,1302.8 235.0,1302.8 C238.3,1302.8 241.7,1302.2 245.0,1302.2 C248.3,1302.2 251.5,1302.4 255.0,1302.6 C258.5,1302.8 263.2,1303.3 266.0,1303.3 C268.8,1302.7 269.8,1300.3 271.7,1299.2 C273.6,1298.1 275.6,1297.7 277.5,1296.9 C279.4,1296.2 281.5,1295.3 283.2,1294.7 C284.9,1294.1 286.3,1293.5 287.8,1293.5 C289.3,1294.3 290.7,1299.0 292.4,1299.8 C294.1,1299.8 296.2,1298.8 298.1,1298.1 C300.0,1297.4 302.1,1296.4 303.8,1295.8 C305.5,1295.2 307.0,1294.7 308.4,1294.7 C309.8,1295.3 310.8,1297.9 311.9,1299.2 C313.0,1300.5 314.0,1302.7 315.3,1302.7 C316.6,1302.5 318.2,1298.9 319.9,1298.1 C321.6,1298.1 323.9,1298.1 325.6,1298.1 C327.3,1296.9 328.7,1291.6 330.2,1291.2 C331.7,1291.2 333.3,1294.5 334.8,1295.8 C336.3,1297.1 337.9,1298.8 339.4,1299.2 C340.9,1299.2 342.5,1299.0 344.0,1298.1 C345.5,1297.1 347.0,1294.8 348.5,1293.5 C350.0,1292.2 351.9,1291.0 353.1,1290.6 C354.4,1290.6 355.4,1290.6 356.0,1291.2 C356.6,1292.6 356.4,1298.6 356.9,1299.2 C357.4,1299.2 358.3,1296.8 359.2,1294.7 C360.1,1292.6 361.1,1288.1 362.0,1286.6 C362.9,1285.5 363.9,1285.5 364.9,1285.5 C365.9,1286.5 366.8,1290.3 367.8,1292.4 C368.9,1294.5 370.1,1296.8 371.2,1298.1 C372.3,1299.4 373.5,1300.4 374.6,1300.4 C375.8,1299.8 377.0,1295.9 378.1,1294.7 C379.2,1293.5 380.4,1293.5 381.5,1293.5 C382.6,1293.9 383.9,1296.5 385.0,1296.9 C386.1,1296.9 387.1,1296.4 388.4,1295.8 C389.7,1295.2 391.5,1293.9 393.0,1293.5 C394.5,1293.5 396.1,1293.5 397.6,1293.5 C399.1,1293.1 400.7,1292.5 402.2,1291.2 C403.7,1289.9 405.4,1288.0 406.7,1285.5 C408.0,1283.0 409.2,1279.2 410.2,1276.3 C411.2,1273.4 411.7,1269.8 412.5,1268.3 C413.3,1267.1 414.0,1267.1 414.8,1267.1 C415.6,1268.0 416.3,1270.8 417.1,1274.0 C417.9,1277.2 418.4,1283.3 419.4,1286.6 C420.3,1289.8 421.7,1292.3 422.8,1293.5 C423.9,1293.5 425.1,1293.5 426.2,1293.5 C427.3,1292.9 428.3,1291.8 429.7,1290.1 C431.1,1288.4 432.8,1284.2 434.3,1283.2 C435.8,1283.2 437.5,1283.8 438.8,1283.8 C440.1,1283.4 441.1,1283.4 442.0,1281.0 C442.9,1278.6 443.4,1273.1 444.3,1269.4 C445.2,1265.8 446.2,1260.4 447.2,1259.1 C448.1,1259.1 448.9,1260.1 450.0,1261.4 C451.1,1262.7 452.4,1265.4 453.5,1267.1 C454.6,1268.8 455.8,1269.8 456.9,1271.7 C458.0,1273.6 459.1,1276.3 460.3,1278.6 C461.5,1280.9 462.7,1283.4 463.8,1285.5 C464.9,1287.6 466.1,1290.0 467.2,1291.2 C468.3,1292.4 469.4,1292.4 470.7,1292.4 C471.9,1292.4 473.8,1292.4 474.7,1291.2 C475.6,1288.5 475.7,1281.5 476.4,1276.3 C477.1,1271.1 477.8,1265.4 478.7,1260.3 C479.6,1255.2 480.7,1247.3 481.6,1245.4 C482.6,1245.4 483.4,1247.1 484.4,1248.8 C485.3,1250.5 486.3,1253.8 487.3,1255.7 C488.3,1257.6 489.4,1259.2 490.2,1260.3 C491.0,1261.4 491.3,1262.1 492.4,1262.5 C493.5,1262.5 495.5,1262.5 497.0,1262.5 C498.5,1262.5 500.4,1262.5 501.6,1262.5 C502.9,1262.1 503.5,1261.8 504.5,1260.3 C505.5,1258.8 506.3,1254.9 507.4,1253.4 C508.4,1251.9 509.7,1252.2 510.8,1251.1 C511.9,1249.9 513.1,1248.8 514.2,1246.5 C515.4,1244.2 516.6,1240.9 517.7,1237.3 C518.9,1233.7 520.2,1229.1 521.1,1224.7 C522.0,1220.3 522.7,1215.8 523.4,1211.0 C524.1,1206.2 524.8,1201.2 525.5,1196.0 C526.2,1190.8 526.8,1186.7 527.5,1180.0 C528.2,1173.3 528.9,1169.3 529.9,1155.8 C530.9,1142.3 532.4,1112.2 533.5,1099.2 C534.6,1086.2 535.8,1077.6 536.7,1077.6 C537.6,1077.6 538.5,1088.5 539.1,1099.2 C539.7,1109.9 540.1,1122.4 540.5,1141.6 C540.9,1160.8 541.1,1194.6 541.5,1214.4 C541.9,1234.2 542.1,1248.8 542.6,1260.3 C543.1,1271.8 543.6,1277.1 544.3,1283.2 C545.0,1289.3 545.7,1293.8 546.6,1296.9 C547.5,1300.1 548.1,1301.0 549.5,1302.1 C550.9,1303.2 552.7,1303.1 555.2,1303.3 C557.7,1303.3 561.0,1303.3 564.4,1303.3 C567.8,1303.2 573.0,1303.0 575.9,1302.7 C578.8,1302.4 579.7,1301.5 581.6,1301.5 C583.5,1301.5 585.6,1302.7 587.3,1302.7 C589.0,1302.5 590.5,1300.4 591.9,1300.4 C593.2,1300.4 593.9,1302.2 595.4,1302.7 C596.9,1303.2 595.4,1303.2 601.1,1303.3 C610.2,1303.3 641.1,1303.3 650.0,1303.3 C654.3,1302.9 653.0,1300.9 654.3,1300.9 C655.6,1300.9 654.3,1302.9 658.0,1303.3 C662.3,1303.3 676.3,1303.3 680.0,1303.3" fill="none" stroke="#f2b22e" stroke-width="2.0" stroke-linejoin="round" stroke-linecap="round"/>
<path d="M568.4,1135.0 C568.5,1125.8 568.9,1095.8 569.2,1080.0 C569.5,1064.2 569.9,1040.0 570.2,1040.0 C570.5,1040.0 570.9,1064.2 571.2,1080.0 C571.5,1095.8 571.9,1125.8 572.0,1135.0" fill="none" stroke="#6a6a1a" stroke-width="1.3" stroke-linejoin="round" stroke-linecap="round"/>
<path d="M180.9,1294.7 C181.4,1294.5 182.6,1293.5 183.7,1293.5 C184.8,1293.7 186.0,1295.0 187.2,1295.8 C188.3,1296.6 189.3,1298.0 190.6,1298.1 C191.9,1298.1 193.7,1296.6 195.2,1296.4 C196.7,1296.4 198.3,1296.7 199.8,1296.9 C201.3,1297.1 202.9,1297.3 204.4,1297.5 C205.9,1297.7 207.7,1297.8 209.0,1298.1 C210.3,1298.4 211.3,1299.2 212.4,1299.2 C213.5,1298.8 214.8,1297.0 215.8,1295.8 C216.9,1294.6 217.8,1292.7 218.7,1291.8 C219.6,1290.9 220.1,1290.6 221.0,1290.6 C221.9,1291.4 222.8,1295.6 223.9,1296.9 C225.0,1298.2 226.0,1298.5 227.3,1298.7 C228.6,1298.7 230.4,1298.2 231.9,1298.1 C233.4,1298.1 234.8,1298.1 236.5,1298.1 C238.2,1298.2 240.5,1298.7 242.2,1298.7 C243.9,1298.7 245.1,1298.4 246.8,1298.1 C248.5,1297.8 250.6,1297.6 252.5,1296.9 C254.4,1296.2 256.6,1294.3 258.3,1294.1 C260.0,1294.1 261.5,1295.5 262.8,1295.8 C264.1,1295.8 264.7,1295.8 266.0,1295.8 C267.3,1296.0 269.1,1296.5 270.6,1296.9 C272.1,1297.3 273.7,1298.1 275.2,1298.1 C276.7,1296.6 278.3,1290.7 279.8,1287.8 C281.3,1284.9 283.1,1282.7 284.3,1280.9 C285.5,1279.1 286.2,1276.9 287.2,1276.9 C288.2,1277.7 289.2,1282.3 290.1,1285.5 C291.1,1288.7 292.0,1295.8 292.9,1295.8 C293.8,1294.5 294.4,1282.3 295.2,1277.5 C296.0,1272.7 296.6,1267.3 297.5,1267.1 C298.4,1267.1 299.4,1272.7 300.4,1276.3 C301.4,1279.9 302.4,1286.3 303.3,1288.9 C304.2,1291.5 305.2,1291.4 306.1,1291.8 C307.1,1291.8 308.0,1291.8 309.0,1291.2 C310.0,1288.8 310.8,1281.5 311.9,1277.5 C312.9,1273.5 314.2,1267.5 315.3,1267.1 C316.4,1267.1 317.6,1271.4 318.7,1275.2 C319.8,1279.0 321.0,1286.5 322.2,1290.1 C323.4,1293.7 324.3,1296.3 325.6,1296.9 C326.9,1296.9 328.7,1293.7 330.2,1293.5 C331.7,1293.5 333.3,1295.8 334.8,1295.8 C336.3,1295.2 338.1,1291.4 339.4,1290.1 C340.7,1288.8 341.6,1287.8 342.8,1287.8 C344.0,1288.8 345.0,1293.9 346.3,1295.8 C347.6,1297.7 349.2,1299.2 350.8,1299.2 C352.4,1298.6 354.9,1294.3 356.0,1292.4 C357.1,1290.5 356.6,1288.2 357.4,1287.8 C358.2,1287.8 359.5,1288.8 360.9,1290.1 C362.2,1291.4 364.0,1294.2 365.5,1295.8 C367.0,1297.4 368.6,1299.8 370.1,1299.8 C371.6,1299.6 373.1,1296.7 374.6,1294.7 C376.1,1292.7 377.9,1289.2 379.2,1287.8 C380.5,1286.6 381.4,1286.6 382.7,1286.6 C384.0,1286.6 385.7,1287.8 387.2,1287.8 C388.7,1287.2 390.3,1283.2 391.8,1283.2 C393.3,1283.4 395.0,1288.5 396.4,1288.9 C397.8,1288.9 398.8,1287.0 399.9,1285.5 C401.0,1284.0 402.0,1280.3 403.3,1279.7 C404.6,1279.7 406.4,1281.6 407.9,1282.0 C409.4,1282.0 411.0,1282.0 412.5,1282.0 C414.0,1282.6 415.6,1284.0 417.1,1285.5 C418.6,1287.0 420.1,1291.0 421.6,1291.2 C423.1,1291.2 424.7,1286.8 426.2,1286.6 C427.7,1286.6 429.3,1288.8 430.8,1290.1 C432.3,1291.4 433.9,1293.6 435.4,1294.7 C436.9,1295.8 438.6,1296.5 440.0,1296.9 C441.4,1296.9 442.5,1296.9 444.0,1296.9 C445.5,1297.1 447.3,1297.1 448.9,1298.1 C450.5,1299.1 452.0,1301.8 453.5,1302.7 C455.0,1303.3 456.6,1303.3 458.1,1303.3 C459.6,1303.3 461.1,1303.3 462.6,1302.7 C464.1,1301.5 465.9,1297.3 467.2,1295.8 C468.5,1294.3 469.5,1293.5 470.7,1293.5 C471.9,1293.5 473.0,1294.6 474.1,1295.8 C475.2,1297.0 476.4,1299.2 477.5,1300.4 C478.6,1301.6 479.9,1302.7 481.0,1302.7 C482.1,1301.9 482.8,1297.9 483.8,1295.8 C484.9,1293.7 486.1,1290.6 487.3,1290.1 C488.6,1290.1 489.9,1292.5 491.3,1293.0 C492.7,1293.0 494.4,1293.0 495.9,1293.0 C497.4,1292.3 499.2,1289.9 500.5,1288.9 C501.8,1287.9 502.6,1287.2 503.9,1287.2 C505.2,1287.2 507.0,1288.9 508.5,1288.9 C510.0,1288.9 511.8,1287.2 513.1,1287.2 C514.4,1287.4 515.4,1288.7 516.5,1290.1 C517.6,1291.5 519.0,1295.6 520.0,1295.8 C521.0,1295.8 521.8,1293.9 522.8,1291.2 C523.8,1288.5 524.7,1283.9 525.7,1279.7 C526.7,1275.5 527.6,1268.9 528.6,1266.0 C529.6,1263.1 531.3,1262.7 532.0,1262.5 C532.7,1262.5 532.1,1263.3 532.9,1264.8 C533.7,1266.3 535.5,1269.6 536.9,1271.7 C538.3,1273.8 540.0,1276.0 541.5,1277.5 C543.0,1279.0 544.8,1280.7 546.1,1280.9 C547.4,1280.9 548.4,1280.5 549.5,1278.6 C550.6,1276.7 552.0,1274.4 552.9,1269.4 C553.8,1264.4 554.1,1258.0 554.6,1248.8 C555.1,1239.6 555.4,1224.2 555.8,1214.4 C556.2,1204.6 556.4,1196.0 556.9,1190.0 C557.4,1184.0 558.0,1178.6 558.7,1178.6 C559.4,1180.0 560.5,1190.1 561.2,1198.6 C561.9,1207.1 562.6,1222.9 563.1,1229.8 C563.6,1236.7 563.9,1239.7 564.3,1239.7 C564.7,1237.6 565.2,1229.3 565.6,1217.3 C566.0,1205.2 566.5,1182.0 566.8,1167.4 C567.1,1152.9 567.1,1150.8 567.4,1130.0 C567.7,1109.2 568.1,1062.6 568.6,1042.5 C569.1,1022.4 569.7,1009.2 570.2,1009.2 C570.8,1009.2 571.4,1022.8 571.9,1042.5 C572.4,1062.2 572.9,1102.5 573.2,1127.5 C573.5,1152.5 573.5,1171.1 573.8,1192.3 C574.1,1213.5 574.4,1238.1 574.9,1254.7 C575.4,1271.3 576.0,1284.4 576.8,1292.1 C577.6,1299.8 577.7,1299.1 579.9,1300.8 C582.1,1302.0 586.6,1302.0 590.0,1302.0 C593.4,1302.0 597.4,1301.5 600.0,1300.9 C602.6,1300.3 604.1,1298.5 605.9,1298.5 C607.7,1298.5 608.6,1300.2 611.0,1301.0 C613.4,1301.8 615.2,1302.9 620.0,1303.3 C624.8,1303.3 635.8,1303.3 640.0,1303.3 C644.2,1303.0 643.3,1301.5 645.0,1301.5 C646.7,1301.5 649.2,1303.0 650.0,1303.3" fill="none" stroke="#7ee02a" stroke-width="2.0" stroke-linejoin="round" stroke-linecap="round"/>
<path d="M180.9,1241.9 C181.6,1241.1 183.7,1237.2 184.9,1236.8 C186.1,1236.8 187.2,1238.0 188.3,1239.6 C189.5,1241.2 190.4,1244.9 191.8,1246.5 C193.2,1248.1 195.0,1249.4 196.9,1249.4 C198.8,1248.9 201.4,1243.6 203.2,1243.6 C205.0,1243.7 206.5,1246.2 207.8,1249.9 C209.1,1253.6 210.1,1260.9 211.2,1266.0 C212.3,1271.1 213.3,1279.0 214.5,1280.3 C215.7,1280.3 216.7,1277.7 218.1,1274.0 C219.5,1270.3 221.2,1263.3 222.7,1258.0 C224.2,1252.7 225.9,1246.0 227.3,1241.9 C228.7,1237.8 229.8,1233.3 231.0,1233.3 C232.2,1233.7 233.3,1241.0 234.2,1244.2 C235.1,1247.5 235.7,1252.8 236.5,1252.8 C237.3,1250.7 237.9,1238.5 238.8,1231.6 C239.8,1224.7 240.9,1214.9 242.2,1211.5 C243.5,1211.2 245.7,1211.2 246.8,1211.2 C248.0,1212.2 248.3,1212.3 249.1,1217.8 C249.9,1223.3 250.6,1237.7 251.4,1244.2 C252.2,1250.7 252.8,1256.4 253.7,1256.8 C254.6,1256.8 256.2,1248.7 257.1,1246.5 C258.1,1244.3 258.3,1243.6 259.4,1243.6 C260.4,1244.2 262.2,1249.9 263.4,1249.9 C264.5,1248.7 265.3,1240.6 266.3,1236.2 C267.3,1231.8 268.3,1224.0 269.4,1223.6 C270.5,1223.6 271.8,1230.2 272.9,1233.9 C273.9,1237.6 274.5,1245.5 275.7,1245.9 C276.9,1245.9 278.6,1236.2 279.8,1236.2 C281.1,1237.1 282.0,1245.5 283.2,1251.1 C284.4,1256.7 285.9,1268.1 287.2,1270.0 C288.4,1270.0 289.5,1266.2 290.7,1262.5 C291.9,1258.8 293.0,1254.1 294.1,1247.6 C295.2,1241.1 296.4,1224.9 297.5,1223.6 C298.6,1223.6 299.4,1233.5 300.4,1239.6 C301.4,1245.7 302.4,1254.8 303.3,1260.3 C304.2,1265.8 305.2,1270.0 306.1,1272.9 C307.1,1275.8 308.0,1277.5 309.0,1277.5 C310.0,1276.5 310.5,1271.9 311.9,1267.1 C313.3,1262.3 315.7,1254.1 317.6,1248.8 C319.5,1243.5 321.2,1238.8 323.3,1235.0 C325.4,1231.2 328.3,1229.3 330.2,1225.9 C332.1,1222.5 333.6,1218.2 334.8,1214.4 C336.0,1210.6 336.4,1211.2 337.1,1202.9 C337.8,1194.6 338.4,1175.2 339.1,1164.8 C339.8,1154.4 340.7,1145.4 341.3,1140.3 C341.9,1135.2 342.1,1134.0 342.5,1134.0 C342.9,1134.0 343.2,1134.7 343.6,1140.3 C344.1,1145.9 344.8,1155.4 345.2,1167.8 C345.6,1180.2 345.8,1202.2 346.3,1214.4 C346.8,1226.7 347.6,1239.8 348.3,1241.3 C349.1,1241.3 350.0,1228.9 350.8,1223.6 C351.6,1218.2 352.2,1209.2 353.1,1209.2 C354.0,1209.6 355.5,1222.2 356.0,1225.9 C356.3,1229.6 356.0,1227.6 356.3,1231.6 C356.8,1235.6 358.1,1248.0 359.2,1249.9 C360.3,1249.9 362.0,1243.1 363.2,1243.1 C364.4,1243.9 365.4,1249.9 366.6,1254.5 C367.8,1259.1 369.5,1269.6 370.6,1270.6 C371.8,1270.6 372.6,1264.3 373.5,1260.3 C374.4,1256.3 374.9,1247.7 375.8,1246.5 C376.7,1246.5 377.8,1251.1 378.7,1253.4 C379.6,1255.7 380.6,1260.3 381.5,1260.3 C382.4,1259.9 383.3,1254.1 384.4,1251.1 C385.4,1248.1 386.6,1243.3 387.8,1242.5 C389.0,1242.5 390.2,1243.9 391.3,1246.5 C392.4,1249.1 393.6,1254.4 394.7,1258.0 C395.8,1261.6 396.6,1265.8 397.6,1268.3 C398.7,1270.8 399.9,1272.9 401.0,1272.9 C402.1,1272.7 403.2,1269.2 404.4,1267.1 C405.5,1265.0 406.8,1261.5 407.9,1260.3 C409.0,1259.7 410.1,1259.7 411.3,1259.7 C412.5,1260.0 413.7,1261.5 414.8,1262.0 C415.9,1262.5 417.1,1262.0 418.2,1262.5 C419.3,1263.3 420.5,1264.0 421.6,1267.1 C422.8,1270.2 424.0,1279.0 425.1,1280.9 C426.2,1280.9 427.6,1279.2 428.5,1278.6 C429.4,1278.0 430.0,1277.5 430.8,1277.5 C431.6,1278.5 432.2,1281.8 433.1,1284.3 C434.1,1286.8 435.4,1290.7 436.5,1292.4 C437.6,1294.1 439.1,1294.7 440.0,1294.7 C440.9,1294.5 441.3,1292.7 442.0,1291.2 C442.7,1289.7 443.4,1287.2 444.3,1285.5 C445.2,1283.8 446.3,1280.9 447.2,1280.9 C448.1,1281.3 448.6,1285.3 449.5,1287.8 C450.4,1290.3 451.2,1294.5 452.3,1295.8 C453.4,1295.8 454.8,1295.8 455.8,1295.8 C456.9,1295.4 457.6,1293.5 458.6,1293.5 C459.7,1293.5 460.9,1295.8 462.1,1295.8 C463.4,1295.8 464.8,1294.5 466.1,1293.5 C467.4,1292.5 468.8,1290.3 470.1,1290.1 C471.4,1290.1 472.7,1291.8 474.1,1292.4 C475.5,1293.0 477.3,1293.1 478.7,1293.5 C480.1,1293.9 481.5,1293.8 482.7,1294.7 C483.9,1295.7 484.9,1298.4 486.1,1299.2 C487.4,1299.8 488.8,1299.8 490.2,1299.8 C491.6,1299.6 493.2,1298.5 494.7,1298.1 C496.2,1297.7 497.8,1297.5 499.3,1297.5 C500.8,1297.7 502.4,1298.9 503.9,1299.2 C505.4,1299.2 507.0,1299.2 508.5,1299.2 C510.0,1299.0 511.8,1298.5 513.1,1298.1 C514.4,1297.7 515.4,1296.9 516.5,1296.9 C517.6,1297.5 518.9,1300.6 520.0,1301.5 C521.1,1302.1 522.3,1302.1 523.4,1302.1 C524.5,1301.9 525.4,1300.7 526.8,1300.4 C528.2,1300.4 530.5,1300.4 532.0,1300.4 C533.5,1300.4 534.5,1300.4 535.7,1300.4 C536.9,1300.0 538.2,1299.2 539.2,1298.1 C540.2,1296.9 541.0,1293.5 542.0,1293.5 C543.0,1293.5 543.9,1296.9 544.9,1298.1 C545.9,1299.2 547.0,1300.1 548.3,1300.4 C549.6,1300.4 551.4,1299.9 552.9,1299.8 C554.4,1299.8 556.1,1299.8 557.5,1299.8 C558.9,1300.3 559.9,1302.5 561.2,1303.0 C562.6,1303.0 564.6,1303.0 565.6,1302.7 C566.6,1296.7 566.9,1276.9 567.5,1267.2 C568.1,1257.5 568.8,1248.7 569.3,1244.7 C569.8,1243.5 570.2,1243.5 570.6,1243.5 C571.0,1245.2 571.4,1248.7 571.8,1254.7 C572.2,1260.7 572.6,1271.5 573.1,1279.6 C573.6,1287.7 573.1,1299.3 574.9,1303.3 C586.0,1303.3 628.3,1303.3 640.0,1303.3 C645.0,1302.7 643.3,1299.6 645.0,1299.6 C646.7,1299.6 645.0,1302.7 650.0,1303.3 C656.2,1303.3 675.8,1303.3 682.0,1303.0 C687.4,1302.4 686.5,1300.2 687.4,1299.6" fill="none" stroke="#bb2fd0" stroke-width="2.0" stroke-linejoin="round" stroke-linecap="round"/>
<text class="sm" x="12.3" y="957.4" font-size="40" text-anchor="start" font-weight="bold" letter-spacing="1">(c)</text>
<text transform="translate(113.6,1232) rotate(-90)" font-size="23">Number of Sequences</text>
<text x="311.6" y="1367.8" font-size="23" text-anchor="start" font-weight="normal" >Number of Partial</text>
<text x="311.6" y="1395.9" font-size="23" text-anchor="start" font-weight="normal" >Genomes</text>
</svg></body></html>
